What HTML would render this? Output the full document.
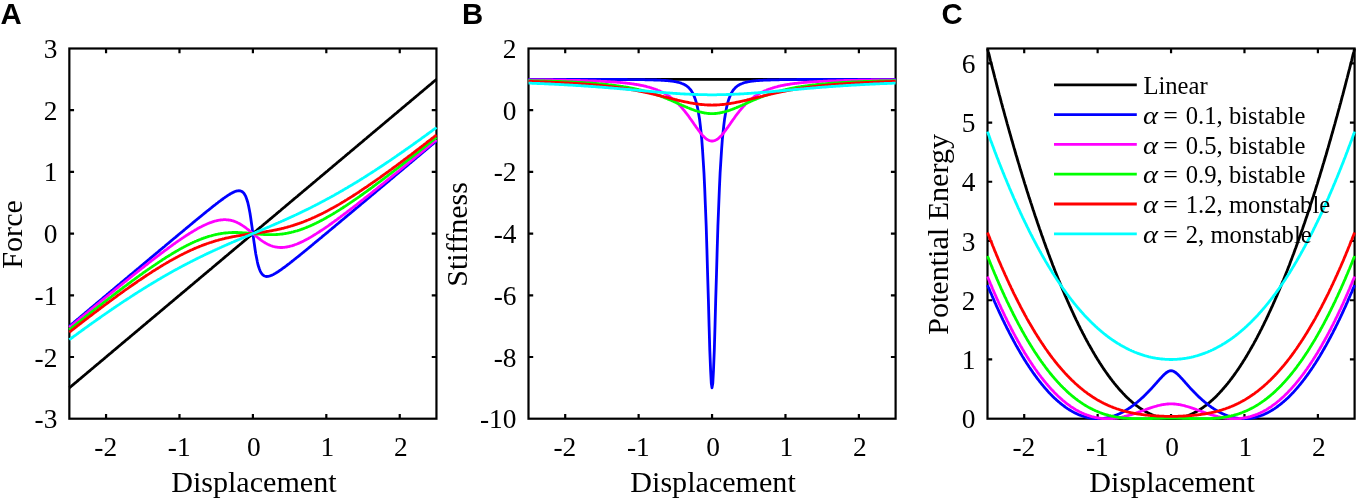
<!DOCTYPE html>
<html><head><meta charset="utf-8"><title>Figure</title><style>html,body{margin:0;padding:0;background:#fff}svg{display:block}</style></head><body>
<svg width="1358" height="501" viewBox="0 0 1358 501" font-family="'Liberation Serif', serif" fill="#000">
<rect width="1358" height="501" fill="#fff"/>
<rect x="69.35" y="48.50" width="367.10" height="370.20" fill="none" stroke="#000" stroke-width="2.2"/>
<path d="M106.06 418.70v-4.7M106.06 48.50v4.7M179.48 418.70v-4.7M179.48 48.50v4.7M252.90 418.70v-4.7M252.90 48.50v4.7M326.32 418.70v-4.7M326.32 48.50v4.7M399.74 418.70v-4.7M399.74 48.50v4.7M69.35 357.00h4.7M436.45 357.00h-4.7M69.35 295.30h4.7M436.45 295.30h-4.7M69.35 233.60h4.7M436.45 233.60h-4.7M69.35 171.90h4.7M436.45 171.90h-4.7M69.35 110.20h4.7M436.45 110.20h-4.7" stroke="#000" stroke-width="2.2" fill="none"/>
<clipPath id="c0"><rect x="67.85" y="47.00" width="370.10" height="373.20"/></clipPath>
<g clip-path="url(#c0)" fill="none" stroke-width="2.8" stroke-linejoin="round">
<polyline stroke="#000000" points="69.3,387.8 70.1,387.2 70.8,386.6 71.6,386.0 72.3,385.4 73.0,384.8 73.8,384.1 74.5,383.5 75.2,382.9 76.0,382.3 76.7,381.7 77.4,381.1 78.2,380.4 78.9,379.8 79.6,379.2 80.4,378.6 81.1,378.0 81.8,377.4 82.6,376.7 83.3,376.1 84.0,375.5 84.8,374.9 85.5,374.3 86.2,373.7 87.0,373.0 87.7,372.4 88.4,371.8 89.2,371.2 89.9,370.6 90.6,370.0 91.4,369.3 92.1,368.7 92.8,368.1 93.6,367.5 94.3,366.9 95.0,366.3 95.8,365.6 96.5,365.0 97.2,364.4 98.0,363.8 98.7,363.2 99.5,362.6 100.2,361.9 100.9,361.3 101.7,360.7 102.4,360.1 103.1,359.5 103.9,358.9 104.6,358.2 105.3,357.6 106.1,357.0 106.8,356.4 107.5,355.8 108.3,355.1 109.0,354.5 109.7,353.9 110.5,353.3 111.2,352.7 111.9,352.1 112.7,351.4 113.4,350.8 114.1,350.2 114.9,349.6 115.6,349.0 116.3,348.4 117.1,347.7 117.8,347.1 118.5,346.5 119.3,345.9 120.0,345.3 120.7,344.7 121.5,344.0 122.2,343.4 122.9,342.8 123.7,342.2 124.4,341.6 125.1,341.0 125.9,340.3 126.6,339.7 127.4,339.1 128.1,338.5 128.8,337.9 129.6,337.3 130.3,336.6 131.0,336.0 131.8,335.4 132.5,334.8 133.2,334.2 134.0,333.6 134.7,332.9 135.4,332.3 136.2,331.7 136.9,331.1 137.6,330.5 138.4,329.9 139.1,329.2 139.8,328.6 140.6,328.0 141.3,327.4 142.0,326.8 142.8,326.1 143.5,325.5 144.2,324.9 145.0,324.3 145.7,323.7 146.4,323.1 147.2,322.4 147.9,321.8 148.6,321.2 149.4,320.6 150.1,320.0 150.8,319.4 151.6,318.7 152.3,318.1 153.0,317.5 153.8,316.9 154.5,316.3 155.3,315.7 156.0,315.0 156.7,314.4 157.5,313.8 158.2,313.2 158.9,312.6 159.7,312.0 160.4,311.3 161.1,310.7 161.9,310.1 162.6,309.5 163.3,308.9 164.1,308.3 164.8,307.6 165.5,307.0 166.3,306.4 167.0,305.8 167.7,305.2 168.5,304.6 169.2,303.9 169.9,303.3 170.7,302.7 171.4,302.1 172.1,301.5 172.9,300.9 173.6,300.2 174.3,299.6 175.1,299.0 175.8,298.4 176.5,297.8 177.3,297.2 178.0,296.5 178.7,295.9 179.5,295.3 180.2,294.7 180.9,294.1 181.7,293.4 182.4,292.8 183.2,292.2 183.9,291.6 184.6,291.0 185.4,290.4 186.1,289.7 186.8,289.1 187.6,288.5 188.3,287.9 189.0,287.3 189.8,286.7 190.5,286.0 191.2,285.4 192.0,284.8 192.7,284.2 193.4,283.6 194.2,283.0 194.9,282.3 195.6,281.7 196.4,281.1 197.1,280.5 197.8,279.9 198.6,279.3 199.3,278.6 200.0,278.0 200.8,277.4 201.5,276.8 202.2,276.2 203.0,275.6 203.7,274.9 204.4,274.3 205.2,273.7 205.9,273.1 206.6,272.5 207.4,271.9 208.1,271.2 208.8,270.6 209.6,270.0 210.3,269.4 211.1,268.8 211.8,268.2 212.5,267.5 213.3,266.9 214.0,266.3 214.7,265.7 215.5,265.1 216.2,264.4 216.9,263.8 217.7,263.2 218.4,262.6 219.1,262.0 219.9,261.4 220.6,260.7 221.3,260.1 222.1,259.5 222.8,258.9 223.5,258.3 224.3,257.7 225.0,257.0 225.7,256.4 226.5,255.8 227.2,255.2 227.9,254.6 228.7,254.0 229.4,253.3 230.1,252.7 230.9,252.1 231.6,251.5 232.3,250.9 233.1,250.3 233.8,249.6 234.5,249.0 235.3,248.4 236.0,247.8 236.7,247.2 237.5,246.6 238.2,245.9 239.0,245.3 239.7,244.7 240.4,244.1 241.2,243.5 241.9,242.9 242.6,242.2 243.4,241.6 244.1,241.0 244.8,240.4 245.6,239.8 246.3,239.2 247.0,238.5 247.8,237.9 248.5,237.3 249.2,236.7 250.0,236.1 250.7,235.5 251.4,234.8 252.2,234.2 252.9,233.6 253.6,233.0 254.4,232.4 255.1,231.7 255.8,231.1 256.6,230.5 257.3,229.9 258.0,229.3 258.8,228.7 259.5,228.0 260.2,227.4 261.0,226.8 261.7,226.2 262.4,225.6 263.2,225.0 263.9,224.3 264.6,223.7 265.4,223.1 266.1,222.5 266.8,221.9 267.6,221.3 268.3,220.6 269.1,220.0 269.8,219.4 270.5,218.8 271.3,218.2 272.0,217.6 272.7,216.9 273.5,216.3 274.2,215.7 274.9,215.1 275.7,214.5 276.4,213.9 277.1,213.2 277.9,212.6 278.6,212.0 279.3,211.4 280.1,210.8 280.8,210.2 281.5,209.5 282.3,208.9 283.0,208.3 283.7,207.7 284.5,207.1 285.2,206.5 285.9,205.8 286.7,205.2 287.4,204.6 288.1,204.0 288.9,203.4 289.6,202.8 290.3,202.1 291.1,201.5 291.8,200.9 292.5,200.3 293.3,199.7 294.0,199.0 294.7,198.4 295.5,197.8 296.2,197.2 297.0,196.6 297.7,196.0 298.4,195.3 299.2,194.7 299.9,194.1 300.6,193.5 301.4,192.9 302.1,192.3 302.8,191.6 303.6,191.0 304.3,190.4 305.0,189.8 305.8,189.2 306.5,188.6 307.2,187.9 308.0,187.3 308.7,186.7 309.4,186.1 310.2,185.5 310.9,184.9 311.6,184.2 312.4,183.6 313.1,183.0 313.8,182.4 314.6,181.8 315.3,181.2 316.0,180.5 316.8,179.9 317.5,179.3 318.2,178.7 319.0,178.1 319.7,177.5 320.4,176.8 321.2,176.2 321.9,175.6 322.6,175.0 323.4,174.4 324.1,173.8 324.9,173.1 325.6,172.5 326.3,171.9 327.1,171.3 327.8,170.7 328.5,170.0 329.3,169.4 330.0,168.8 330.7,168.2 331.5,167.6 332.2,167.0 332.9,166.3 333.7,165.7 334.4,165.1 335.1,164.5 335.9,163.9 336.6,163.3 337.3,162.6 338.1,162.0 338.8,161.4 339.5,160.8 340.3,160.2 341.0,159.6 341.7,158.9 342.5,158.3 343.2,157.7 343.9,157.1 344.7,156.5 345.4,155.9 346.1,155.2 346.9,154.6 347.6,154.0 348.3,153.4 349.1,152.8 349.8,152.2 350.5,151.5 351.3,150.9 352.0,150.3 352.8,149.7 353.5,149.1 354.2,148.5 355.0,147.8 355.7,147.2 356.4,146.6 357.2,146.0 357.9,145.4 358.6,144.8 359.4,144.1 360.1,143.5 360.8,142.9 361.6,142.3 362.3,141.7 363.0,141.1 363.8,140.4 364.5,139.8 365.2,139.2 366.0,138.6 366.7,138.0 367.4,137.3 368.2,136.7 368.9,136.1 369.6,135.5 370.4,134.9 371.1,134.3 371.8,133.6 372.6,133.0 373.3,132.4 374.0,131.8 374.8,131.2 375.5,130.6 376.2,129.9 377.0,129.3 377.7,128.7 378.4,128.1 379.2,127.5 379.9,126.9 380.7,126.2 381.4,125.6 382.1,125.0 382.9,124.4 383.6,123.8 384.3,123.2 385.1,122.5 385.8,121.9 386.5,121.3 387.3,120.7 388.0,120.1 388.7,119.5 389.5,118.8 390.2,118.2 390.9,117.6 391.7,117.0 392.4,116.4 393.1,115.8 393.9,115.1 394.6,114.5 395.3,113.9 396.1,113.3 396.8,112.7 397.5,112.1 398.3,111.4 399.0,110.8 399.7,110.2 400.5,109.6 401.2,109.0 401.9,108.3 402.7,107.7 403.4,107.1 404.1,106.5 404.9,105.9 405.6,105.3 406.3,104.6 407.1,104.0 407.8,103.4 408.6,102.8 409.3,102.2 410.0,101.6 410.8,100.9 411.5,100.3 412.2,99.7 413.0,99.1 413.7,98.5 414.4,97.9 415.2,97.2 415.9,96.6 416.6,96.0 417.4,95.4 418.1,94.8 418.8,94.2 419.6,93.5 420.3,92.9 421.0,92.3 421.8,91.7 422.5,91.1 423.2,90.5 424.0,89.8 424.7,89.2 425.4,88.6 426.2,88.0 426.9,87.4 427.6,86.8 428.4,86.1 429.1,85.5 429.8,84.9 430.6,84.3 431.3,83.7 432.0,83.1 432.8,82.4 433.5,81.8 434.2,81.2 435.0,80.6 435.7,80.0 436.5,79.4"/>
<polyline stroke="#0000ff" points="69.3,326.2 70.1,325.6 70.8,325.0 71.6,324.3 72.3,323.7 73.0,323.1 73.8,322.5 74.5,321.9 75.2,321.3 76.0,320.7 76.7,320.0 77.4,319.4 78.2,318.8 78.9,318.2 79.6,317.6 80.4,317.0 81.1,316.3 81.8,315.7 82.6,315.1 83.3,314.5 84.0,313.9 84.8,313.3 85.5,312.6 86.2,312.0 87.0,311.4 87.7,310.8 88.4,310.2 89.2,309.6 89.9,308.9 90.6,308.3 91.4,307.7 92.1,307.1 92.8,306.5 93.6,305.9 94.3,305.2 95.0,304.6 95.8,304.0 96.5,303.4 97.2,302.8 98.0,302.2 98.7,301.5 99.5,300.9 100.2,300.3 100.9,299.7 101.7,299.1 102.4,298.5 103.1,297.8 103.9,297.2 104.6,296.6 105.3,296.0 106.1,295.4 106.8,294.8 107.5,294.1 108.3,293.5 109.0,292.9 109.7,292.3 110.5,291.7 111.2,291.1 111.9,290.4 112.7,289.8 113.4,289.2 114.1,288.6 114.9,288.0 115.6,287.4 116.3,286.8 117.1,286.1 117.8,285.5 118.5,284.9 119.3,284.3 120.0,283.7 120.7,283.1 121.5,282.4 122.2,281.8 122.9,281.2 123.7,280.6 124.4,280.0 125.1,279.4 125.9,278.7 126.6,278.1 127.4,277.5 128.1,276.9 128.8,276.3 129.6,275.7 130.3,275.0 131.0,274.4 131.8,273.8 132.5,273.2 133.2,272.6 134.0,272.0 134.7,271.4 135.4,270.7 136.2,270.1 136.9,269.5 137.6,268.9 138.4,268.3 139.1,267.7 139.8,267.0 140.6,266.4 141.3,265.8 142.0,265.2 142.8,264.6 143.5,264.0 144.2,263.4 145.0,262.7 145.7,262.1 146.4,261.5 147.2,260.9 147.9,260.3 148.6,259.7 149.4,259.1 150.1,258.4 150.8,257.8 151.6,257.2 152.3,256.6 153.0,256.0 153.8,255.4 154.5,254.7 155.3,254.1 156.0,253.5 156.7,252.9 157.5,252.3 158.2,251.7 158.9,251.1 159.7,250.4 160.4,249.8 161.1,249.2 161.9,248.6 162.6,248.0 163.3,247.4 164.1,246.8 164.8,246.2 165.5,245.5 166.3,244.9 167.0,244.3 167.7,243.7 168.5,243.1 169.2,242.5 169.9,241.9 170.7,241.2 171.4,240.6 172.1,240.0 172.9,239.4 173.6,238.8 174.3,238.2 175.1,237.6 175.8,237.0 176.5,236.4 177.3,235.7 178.0,235.1 178.7,234.5 179.5,233.9 180.2,233.3 180.9,232.7 181.7,232.1 182.4,231.5 183.2,230.9 183.9,230.2 184.6,229.6 185.4,229.0 186.1,228.4 186.8,227.8 187.6,227.2 188.3,226.6 189.0,226.0 189.8,225.4 190.5,224.8 191.2,224.2 192.0,223.6 192.7,222.9 193.4,222.3 194.2,221.7 194.9,221.1 195.6,220.5 196.4,219.9 197.1,219.3 197.8,218.7 198.6,218.1 199.3,217.5 200.0,216.9 200.8,216.3 201.5,215.7 202.2,215.1 203.0,214.5 203.7,213.9 204.4,213.3 205.2,212.7 205.9,212.1 206.6,211.5 207.4,210.9 208.1,210.3 208.8,209.8 209.6,209.2 210.3,208.6 211.1,208.0 211.8,207.4 212.5,206.8 213.3,206.2 214.0,205.7 214.7,205.1 215.5,204.5 216.2,203.9 216.9,203.4 217.7,202.8 218.4,202.2 219.1,201.7 219.9,201.1 220.6,200.6 221.3,200.0 222.1,199.5 222.8,199.0 223.5,198.4 224.3,197.9 225.0,197.4 225.7,196.9 226.5,196.4 227.2,195.9 227.9,195.4 228.7,194.9 229.4,194.5 230.1,194.0 230.9,193.6 231.6,193.2 232.3,192.8 233.1,192.4 233.8,192.1 234.5,191.7 235.3,191.5 236.0,191.2 236.7,191.0 237.5,190.9 238.2,190.8 239.0,190.7 239.7,190.8 240.4,190.9 241.2,191.2 241.9,191.5 242.6,192.0 243.4,192.7 244.1,193.6 244.8,194.7 245.6,196.1 246.3,197.9 247.0,200.0 247.8,202.5 248.5,205.6 249.2,209.1 250.0,213.2 250.7,217.7 251.4,222.7 252.2,228.1 252.9,233.6 253.6,239.1 254.4,244.5 255.1,249.5 255.8,254.0 256.6,258.1 257.3,261.6 258.0,264.7 258.8,267.2 259.5,269.3 260.2,271.1 261.0,272.5 261.7,273.6 262.4,274.5 263.2,275.2 263.9,275.7 264.6,276.0 265.4,276.3 266.1,276.4 266.8,276.5 267.6,276.4 268.3,276.3 269.1,276.2 269.8,276.0 270.5,275.7 271.3,275.5 272.0,275.1 272.7,274.8 273.5,274.4 274.2,274.0 274.9,273.6 275.7,273.2 276.4,272.7 277.1,272.3 277.9,271.8 278.6,271.3 279.3,270.8 280.1,270.3 280.8,269.8 281.5,269.3 282.3,268.8 283.0,268.2 283.7,267.7 284.5,267.2 285.2,266.6 285.9,266.1 286.7,265.5 287.4,265.0 288.1,264.4 288.9,263.8 289.6,263.3 290.3,262.7 291.1,262.1 291.8,261.5 292.5,261.0 293.3,260.4 294.0,259.8 294.7,259.2 295.5,258.6 296.2,258.0 297.0,257.4 297.7,256.9 298.4,256.3 299.2,255.7 299.9,255.1 300.6,254.5 301.4,253.9 302.1,253.3 302.8,252.7 303.6,252.1 304.3,251.5 305.0,250.9 305.8,250.3 306.5,249.7 307.2,249.1 308.0,248.5 308.7,247.9 309.4,247.3 310.2,246.7 310.9,246.1 311.6,245.5 312.4,244.9 313.1,244.3 313.8,243.6 314.6,243.0 315.3,242.4 316.0,241.8 316.8,241.2 317.5,240.6 318.2,240.0 319.0,239.4 319.7,238.8 320.4,238.2 321.2,237.6 321.9,237.0 322.6,236.3 323.4,235.7 324.1,235.1 324.9,234.5 325.6,233.9 326.3,233.3 327.1,232.7 327.8,232.1 328.5,231.5 329.3,230.8 330.0,230.2 330.7,229.6 331.5,229.0 332.2,228.4 332.9,227.8 333.7,227.2 334.4,226.6 335.1,226.0 335.9,225.3 336.6,224.7 337.3,224.1 338.1,223.5 338.8,222.9 339.5,222.3 340.3,221.7 341.0,221.0 341.7,220.4 342.5,219.8 343.2,219.2 343.9,218.6 344.7,218.0 345.4,217.4 346.1,216.8 346.9,216.1 347.6,215.5 348.3,214.9 349.1,214.3 349.8,213.7 350.5,213.1 351.3,212.5 352.0,211.8 352.8,211.2 353.5,210.6 354.2,210.0 355.0,209.4 355.7,208.8 356.4,208.1 357.2,207.5 357.9,206.9 358.6,206.3 359.4,205.7 360.1,205.1 360.8,204.5 361.6,203.8 362.3,203.2 363.0,202.6 363.8,202.0 364.5,201.4 365.2,200.8 366.0,200.2 366.7,199.5 367.4,198.9 368.2,198.3 368.9,197.7 369.6,197.1 370.4,196.5 371.1,195.8 371.8,195.2 372.6,194.6 373.3,194.0 374.0,193.4 374.8,192.8 375.5,192.2 376.2,191.5 377.0,190.9 377.7,190.3 378.4,189.7 379.2,189.1 379.9,188.5 380.7,187.8 381.4,187.2 382.1,186.6 382.9,186.0 383.6,185.4 384.3,184.8 385.1,184.1 385.8,183.5 386.5,182.9 387.3,182.3 388.0,181.7 388.7,181.1 389.5,180.4 390.2,179.8 390.9,179.2 391.7,178.6 392.4,178.0 393.1,177.4 393.9,176.8 394.6,176.1 395.3,175.5 396.1,174.9 396.8,174.3 397.5,173.7 398.3,173.1 399.0,172.4 399.7,171.8 400.5,171.2 401.2,170.6 401.9,170.0 402.7,169.4 403.4,168.7 404.1,168.1 404.9,167.5 405.6,166.9 406.3,166.3 407.1,165.7 407.8,165.0 408.6,164.4 409.3,163.8 410.0,163.2 410.8,162.6 411.5,162.0 412.2,161.3 413.0,160.7 413.7,160.1 414.4,159.5 415.2,158.9 415.9,158.3 416.6,157.6 417.4,157.0 418.1,156.4 418.8,155.8 419.6,155.2 420.3,154.6 421.0,153.9 421.8,153.3 422.5,152.7 423.2,152.1 424.0,151.5 424.7,150.9 425.4,150.2 426.2,149.6 426.9,149.0 427.6,148.4 428.4,147.8 429.1,147.2 429.8,146.5 430.6,145.9 431.3,145.3 432.0,144.7 432.8,144.1 433.5,143.5 434.2,142.9 435.0,142.2 435.7,141.6 436.5,141.0"/>
<polyline stroke="#ff00ff" points="69.3,327.3 70.1,326.7 70.8,326.1 71.6,325.5 72.3,324.9 73.0,324.3 73.8,323.7 74.5,323.1 75.2,322.5 76.0,321.9 76.7,321.3 77.4,320.7 78.2,320.1 78.9,319.5 79.6,318.9 80.4,318.2 81.1,317.6 81.8,317.0 82.6,316.4 83.3,315.8 84.0,315.2 84.8,314.6 85.5,314.0 86.2,313.4 87.0,312.8 87.7,312.2 88.4,311.6 89.2,311.0 89.9,310.4 90.6,309.8 91.4,309.2 92.1,308.6 92.8,308.0 93.6,307.4 94.3,306.8 95.0,306.2 95.8,305.6 96.5,305.0 97.2,304.4 98.0,303.7 98.7,303.1 99.5,302.5 100.2,301.9 100.9,301.3 101.7,300.7 102.4,300.1 103.1,299.5 103.9,298.9 104.6,298.3 105.3,297.7 106.1,297.1 106.8,296.5 107.5,295.9 108.3,295.3 109.0,294.7 109.7,294.1 110.5,293.6 111.2,293.0 111.9,292.4 112.7,291.8 113.4,291.2 114.1,290.6 114.9,290.0 115.6,289.4 116.3,288.8 117.1,288.2 117.8,287.6 118.5,287.0 119.3,286.4 120.0,285.8 120.7,285.2 121.5,284.6 122.2,284.0 122.9,283.4 123.7,282.8 124.4,282.2 125.1,281.7 125.9,281.1 126.6,280.5 127.4,279.9 128.1,279.3 128.8,278.7 129.6,278.1 130.3,277.5 131.0,276.9 131.8,276.4 132.5,275.8 133.2,275.2 134.0,274.6 134.7,274.0 135.4,273.4 136.2,272.8 136.9,272.3 137.6,271.7 138.4,271.1 139.1,270.5 139.8,269.9 140.6,269.4 141.3,268.8 142.0,268.2 142.8,267.6 143.5,267.0 144.2,266.5 145.0,265.9 145.7,265.3 146.4,264.7 147.2,264.2 147.9,263.6 148.6,263.0 149.4,262.4 150.1,261.9 150.8,261.3 151.6,260.7 152.3,260.2 153.0,259.6 153.8,259.0 154.5,258.5 155.3,257.9 156.0,257.3 156.7,256.8 157.5,256.2 158.2,255.7 158.9,255.1 159.7,254.5 160.4,254.0 161.1,253.4 161.9,252.9 162.6,252.3 163.3,251.8 164.1,251.2 164.8,250.7 165.5,250.1 166.3,249.6 167.0,249.1 167.7,248.5 168.5,248.0 169.2,247.4 169.9,246.9 170.7,246.4 171.4,245.8 172.1,245.3 172.9,244.8 173.6,244.2 174.3,243.7 175.1,243.2 175.8,242.7 176.5,242.2 177.3,241.6 178.0,241.1 178.7,240.6 179.5,240.1 180.2,239.6 180.9,239.1 181.7,238.6 182.4,238.1 183.2,237.6 183.9,237.1 184.6,236.6 185.4,236.2 186.1,235.7 186.8,235.2 187.6,234.7 188.3,234.3 189.0,233.8 189.8,233.3 190.5,232.9 191.2,232.4 192.0,232.0 192.7,231.5 193.4,231.1 194.2,230.6 194.9,230.2 195.6,229.8 196.4,229.4 197.1,228.9 197.8,228.5 198.6,228.1 199.3,227.7 200.0,227.3 200.8,227.0 201.5,226.6 202.2,226.2 203.0,225.8 203.7,225.5 204.4,225.1 205.2,224.8 205.9,224.5 206.6,224.1 207.4,223.8 208.1,223.5 208.8,223.2 209.6,222.9 210.3,222.7 211.1,222.4 211.8,222.1 212.5,221.9 213.3,221.6 214.0,221.4 214.7,221.2 215.5,221.0 216.2,220.8 216.9,220.6 217.7,220.5 218.4,220.3 219.1,220.2 219.9,220.1 220.6,220.0 221.3,219.9 222.1,219.8 222.8,219.8 223.5,219.7 224.3,219.7 225.0,219.7 225.7,219.7 226.5,219.8 227.2,219.8 227.9,219.9 228.7,220.0 229.4,220.1 230.1,220.2 230.9,220.4 231.6,220.5 232.3,220.7 233.1,220.9 233.8,221.2 234.5,221.4 235.3,221.7 236.0,222.0 236.7,222.3 237.5,222.7 238.2,223.0 239.0,223.4 239.7,223.8 240.4,224.2 241.2,224.7 241.9,225.1 242.6,225.6 243.4,226.1 244.1,226.6 244.8,227.1 245.6,227.7 246.3,228.2 247.0,228.8 247.8,229.4 248.5,230.0 249.2,230.5 250.0,231.1 250.7,231.8 251.4,232.4 252.2,233.0 252.9,233.6 253.6,234.2 254.4,234.8 255.1,235.4 255.8,236.1 256.6,236.7 257.3,237.2 258.0,237.8 258.8,238.4 259.5,239.0 260.2,239.5 261.0,240.1 261.7,240.6 262.4,241.1 263.2,241.6 263.9,242.1 264.6,242.5 265.4,243.0 266.1,243.4 266.8,243.8 267.6,244.2 268.3,244.5 269.1,244.9 269.8,245.2 270.5,245.5 271.3,245.8 272.0,246.0 272.7,246.3 273.5,246.5 274.2,246.7 274.9,246.8 275.7,247.0 276.4,247.1 277.1,247.2 277.9,247.3 278.6,247.4 279.3,247.4 280.1,247.5 280.8,247.5 281.5,247.5 282.3,247.5 283.0,247.4 283.7,247.4 284.5,247.3 285.2,247.2 285.9,247.1 286.7,247.0 287.4,246.9 288.1,246.7 288.9,246.6 289.6,246.4 290.3,246.2 291.1,246.0 291.8,245.8 292.5,245.6 293.3,245.3 294.0,245.1 294.7,244.8 295.5,244.5 296.2,244.3 297.0,244.0 297.7,243.7 298.4,243.4 299.2,243.1 299.9,242.7 300.6,242.4 301.4,242.1 302.1,241.7 302.8,241.4 303.6,241.0 304.3,240.6 305.0,240.2 305.8,239.9 306.5,239.5 307.2,239.1 308.0,238.7 308.7,238.3 309.4,237.8 310.2,237.4 310.9,237.0 311.6,236.6 312.4,236.1 313.1,235.7 313.8,235.2 314.6,234.8 315.3,234.3 316.0,233.9 316.8,233.4 317.5,232.9 318.2,232.5 319.0,232.0 319.7,231.5 320.4,231.0 321.2,230.6 321.9,230.1 322.6,229.6 323.4,229.1 324.1,228.6 324.9,228.1 325.6,227.6 326.3,227.1 327.1,226.6 327.8,226.1 328.5,225.6 329.3,225.0 330.0,224.5 330.7,224.0 331.5,223.5 332.2,223.0 332.9,222.4 333.7,221.9 334.4,221.4 335.1,220.8 335.9,220.3 336.6,219.8 337.3,219.2 338.1,218.7 338.8,218.1 339.5,217.6 340.3,217.1 341.0,216.5 341.7,216.0 342.5,215.4 343.2,214.9 343.9,214.3 344.7,213.8 345.4,213.2 346.1,212.7 346.9,212.1 347.6,211.5 348.3,211.0 349.1,210.4 349.8,209.9 350.5,209.3 351.3,208.7 352.0,208.2 352.8,207.6 353.5,207.0 354.2,206.5 355.0,205.9 355.7,205.3 356.4,204.8 357.2,204.2 357.9,203.6 358.6,203.0 359.4,202.5 360.1,201.9 360.8,201.3 361.6,200.7 362.3,200.2 363.0,199.6 363.8,199.0 364.5,198.4 365.2,197.8 366.0,197.3 366.7,196.7 367.4,196.1 368.2,195.5 368.9,194.9 369.6,194.4 370.4,193.8 371.1,193.2 371.8,192.6 372.6,192.0 373.3,191.4 374.0,190.8 374.8,190.3 375.5,189.7 376.2,189.1 377.0,188.5 377.7,187.9 378.4,187.3 379.2,186.7 379.9,186.1 380.7,185.5 381.4,185.0 382.1,184.4 382.9,183.8 383.6,183.2 384.3,182.6 385.1,182.0 385.8,181.4 386.5,180.8 387.3,180.2 388.0,179.6 388.7,179.0 389.5,178.4 390.2,177.8 390.9,177.2 391.7,176.6 392.4,176.0 393.1,175.4 393.9,174.8 394.6,174.2 395.3,173.6 396.1,173.1 396.8,172.5 397.5,171.9 398.3,171.3 399.0,170.7 399.7,170.1 400.5,169.5 401.2,168.9 401.9,168.3 402.7,167.7 403.4,167.1 404.1,166.5 404.9,165.9 405.6,165.3 406.3,164.7 407.1,164.1 407.8,163.5 408.6,162.8 409.3,162.2 410.0,161.6 410.8,161.0 411.5,160.4 412.2,159.8 413.0,159.2 413.7,158.6 414.4,158.0 415.2,157.4 415.9,156.8 416.6,156.2 417.4,155.6 418.1,155.0 418.8,154.4 419.6,153.8 420.3,153.2 421.0,152.6 421.8,152.0 422.5,151.4 423.2,150.8 424.0,150.2 424.7,149.6 425.4,149.0 426.2,148.3 426.9,147.7 427.6,147.1 428.4,146.5 429.1,145.9 429.8,145.3 430.6,144.7 431.3,144.1 432.0,143.5 432.8,142.9 433.5,142.3 434.2,141.7 435.0,141.1 435.7,140.5 436.5,139.9"/>
<polyline stroke="#00ff00" points="69.3,329.8 70.1,329.2 70.8,328.6 71.6,328.0 72.3,327.4 73.0,326.8 73.8,326.3 74.5,325.7 75.2,325.1 76.0,324.5 76.7,323.9 77.4,323.3 78.2,322.7 78.9,322.1 79.6,321.6 80.4,321.0 81.1,320.4 81.8,319.8 82.6,319.2 83.3,318.6 84.0,318.1 84.8,317.5 85.5,316.9 86.2,316.3 87.0,315.7 87.7,315.1 88.4,314.6 89.2,314.0 89.9,313.4 90.6,312.8 91.4,312.2 92.1,311.7 92.8,311.1 93.6,310.5 94.3,309.9 95.0,309.3 95.8,308.8 96.5,308.2 97.2,307.6 98.0,307.0 98.7,306.5 99.5,305.9 100.2,305.3 100.9,304.7 101.7,304.2 102.4,303.6 103.1,303.0 103.9,302.4 104.6,301.9 105.3,301.3 106.1,300.7 106.8,300.2 107.5,299.6 108.3,299.0 109.0,298.5 109.7,297.9 110.5,297.3 111.2,296.8 111.9,296.2 112.7,295.6 113.4,295.1 114.1,294.5 114.9,293.9 115.6,293.4 116.3,292.8 117.1,292.3 117.8,291.7 118.5,291.1 119.3,290.6 120.0,290.0 120.7,289.5 121.5,288.9 122.2,288.4 122.9,287.8 123.7,287.3 124.4,286.7 125.1,286.2 125.9,285.6 126.6,285.1 127.4,284.5 128.1,284.0 128.8,283.4 129.6,282.9 130.3,282.3 131.0,281.8 131.8,281.2 132.5,280.7 133.2,280.2 134.0,279.6 134.7,279.1 135.4,278.5 136.2,278.0 136.9,277.5 137.6,276.9 138.4,276.4 139.1,275.9 139.8,275.3 140.6,274.8 141.3,274.3 142.0,273.8 142.8,273.2 143.5,272.7 144.2,272.2 145.0,271.7 145.7,271.2 146.4,270.6 147.2,270.1 147.9,269.6 148.6,269.1 149.4,268.6 150.1,268.1 150.8,267.6 151.6,267.1 152.3,266.6 153.0,266.1 153.8,265.6 154.5,265.1 155.3,264.6 156.0,264.1 156.7,263.6 157.5,263.1 158.2,262.6 158.9,262.1 159.7,261.6 160.4,261.1 161.1,260.7 161.9,260.2 162.6,259.7 163.3,259.2 164.1,258.8 164.8,258.3 165.5,257.8 166.3,257.3 167.0,256.9 167.7,256.4 168.5,256.0 169.2,255.5 169.9,255.1 170.7,254.6 171.4,254.2 172.1,253.7 172.9,253.3 173.6,252.8 174.3,252.4 175.1,252.0 175.8,251.5 176.5,251.1 177.3,250.7 178.0,250.3 178.7,249.9 179.5,249.4 180.2,249.0 180.9,248.6 181.7,248.2 182.4,247.8 183.2,247.4 183.9,247.0 184.6,246.6 185.4,246.3 186.1,245.9 186.8,245.5 187.6,245.1 188.3,244.8 189.0,244.4 189.8,244.0 190.5,243.7 191.2,243.3 192.0,243.0 192.7,242.6 193.4,242.3 194.2,242.0 194.9,241.6 195.6,241.3 196.4,241.0 197.1,240.7 197.8,240.4 198.6,240.1 199.3,239.8 200.0,239.5 200.8,239.2 201.5,238.9 202.2,238.6 203.0,238.4 203.7,238.1 204.4,237.8 205.2,237.6 205.9,237.3 206.6,237.1 207.4,236.9 208.1,236.6 208.8,236.4 209.6,236.2 210.3,236.0 211.1,235.8 211.8,235.6 212.5,235.4 213.3,235.2 214.0,235.0 214.7,234.8 215.5,234.6 216.2,234.5 216.9,234.3 217.7,234.2 218.4,234.0 219.1,233.9 219.9,233.8 220.6,233.6 221.3,233.5 222.1,233.4 222.8,233.3 223.5,233.2 224.3,233.1 225.0,233.0 225.7,233.0 226.5,232.9 227.2,232.8 227.9,232.8 228.7,232.7 229.4,232.7 230.1,232.6 230.9,232.6 231.6,232.6 232.3,232.5 233.1,232.5 233.8,232.5 234.5,232.5 235.3,232.5 236.0,232.5 236.7,232.5 237.5,232.5 238.2,232.6 239.0,232.6 239.7,232.6 240.4,232.6 241.2,232.7 241.9,232.7 242.6,232.8 243.4,232.8 244.1,232.8 244.8,232.9 245.6,233.0 246.3,233.0 247.0,233.1 247.8,233.1 248.5,233.2 249.2,233.3 250.0,233.3 250.7,233.4 251.4,233.5 252.2,233.5 252.9,233.6 253.6,233.7 254.4,233.7 255.1,233.8 255.8,233.9 256.6,233.9 257.3,234.0 258.0,234.1 258.8,234.1 259.5,234.2 260.2,234.2 261.0,234.3 261.7,234.4 262.4,234.4 263.2,234.4 263.9,234.5 264.6,234.5 265.4,234.6 266.1,234.6 266.8,234.6 267.6,234.6 268.3,234.7 269.1,234.7 269.8,234.7 270.5,234.7 271.3,234.7 272.0,234.7 272.7,234.7 273.5,234.7 274.2,234.6 274.9,234.6 275.7,234.6 276.4,234.5 277.1,234.5 277.9,234.4 278.6,234.4 279.3,234.3 280.1,234.2 280.8,234.2 281.5,234.1 282.3,234.0 283.0,233.9 283.7,233.8 284.5,233.7 285.2,233.6 285.9,233.4 286.7,233.3 287.4,233.2 288.1,233.0 288.9,232.9 289.6,232.7 290.3,232.6 291.1,232.4 291.8,232.2 292.5,232.0 293.3,231.8 294.0,231.6 294.7,231.4 295.5,231.2 296.2,231.0 297.0,230.8 297.7,230.6 298.4,230.3 299.2,230.1 299.9,229.9 300.6,229.6 301.4,229.4 302.1,229.1 302.8,228.8 303.6,228.6 304.3,228.3 305.0,228.0 305.8,227.7 306.5,227.4 307.2,227.1 308.0,226.8 308.7,226.5 309.4,226.2 310.2,225.9 310.9,225.6 311.6,225.2 312.4,224.9 313.1,224.6 313.8,224.2 314.6,223.9 315.3,223.5 316.0,223.2 316.8,222.8 317.5,222.4 318.2,222.1 319.0,221.7 319.7,221.3 320.4,220.9 321.2,220.6 321.9,220.2 322.6,219.8 323.4,219.4 324.1,219.0 324.9,218.6 325.6,218.2 326.3,217.8 327.1,217.3 327.8,216.9 328.5,216.5 329.3,216.1 330.0,215.7 330.7,215.2 331.5,214.8 332.2,214.4 332.9,213.9 333.7,213.5 334.4,213.0 335.1,212.6 335.9,212.1 336.6,211.7 337.3,211.2 338.1,210.8 338.8,210.3 339.5,209.9 340.3,209.4 341.0,208.9 341.7,208.4 342.5,208.0 343.2,207.5 343.9,207.0 344.7,206.5 345.4,206.1 346.1,205.6 346.9,205.1 347.6,204.6 348.3,204.1 349.1,203.6 349.8,203.1 350.5,202.6 351.3,202.1 352.0,201.6 352.8,201.1 353.5,200.6 354.2,200.1 355.0,199.6 355.7,199.1 356.4,198.6 357.2,198.1 357.9,197.6 358.6,197.1 359.4,196.6 360.1,196.0 360.8,195.5 361.6,195.0 362.3,194.5 363.0,194.0 363.8,193.4 364.5,192.9 365.2,192.4 366.0,191.9 366.7,191.3 367.4,190.8 368.2,190.3 368.9,189.7 369.6,189.2 370.4,188.7 371.1,188.1 371.8,187.6 372.6,187.0 373.3,186.5 374.0,186.0 374.8,185.4 375.5,184.9 376.2,184.3 377.0,183.8 377.7,183.2 378.4,182.7 379.2,182.1 379.9,181.6 380.7,181.0 381.4,180.5 382.1,179.9 382.9,179.4 383.6,178.8 384.3,178.3 385.1,177.7 385.8,177.2 386.5,176.6 387.3,176.1 388.0,175.5 388.7,174.9 389.5,174.4 390.2,173.8 390.9,173.3 391.7,172.7 392.4,172.1 393.1,171.6 393.9,171.0 394.6,170.4 395.3,169.9 396.1,169.3 396.8,168.7 397.5,168.2 398.3,167.6 399.0,167.0 399.7,166.5 400.5,165.9 401.2,165.3 401.9,164.8 402.7,164.2 403.4,163.6 404.1,163.0 404.9,162.5 405.6,161.9 406.3,161.3 407.1,160.7 407.8,160.2 408.6,159.6 409.3,159.0 410.0,158.4 410.8,157.9 411.5,157.3 412.2,156.7 413.0,156.1 413.7,155.5 414.4,155.0 415.2,154.4 415.9,153.8 416.6,153.2 417.4,152.6 418.1,152.1 418.8,151.5 419.6,150.9 420.3,150.3 421.0,149.7 421.8,149.1 422.5,148.6 423.2,148.0 424.0,147.4 424.7,146.8 425.4,146.2 426.2,145.6 426.9,145.1 427.6,144.5 428.4,143.9 429.1,143.3 429.8,142.7 430.6,142.1 431.3,141.5 432.0,140.9 432.8,140.4 433.5,139.8 434.2,139.2 435.0,138.6 435.7,138.0 436.5,137.4"/>
<polyline stroke="#ff0000" points="69.3,332.2 70.1,331.7 70.8,331.1 71.6,330.5 72.3,329.9 73.0,329.4 73.8,328.8 74.5,328.2 75.2,327.6 76.0,327.1 76.7,326.5 77.4,325.9 78.2,325.4 78.9,324.8 79.6,324.2 80.4,323.6 81.1,323.1 81.8,322.5 82.6,321.9 83.3,321.4 84.0,320.8 84.8,320.2 85.5,319.7 86.2,319.1 87.0,318.5 87.7,318.0 88.4,317.4 89.2,316.9 89.9,316.3 90.6,315.7 91.4,315.2 92.1,314.6 92.8,314.1 93.6,313.5 94.3,312.9 95.0,312.4 95.8,311.8 96.5,311.3 97.2,310.7 98.0,310.2 98.7,309.6 99.5,309.0 100.2,308.5 100.9,307.9 101.7,307.4 102.4,306.8 103.1,306.3 103.9,305.7 104.6,305.2 105.3,304.6 106.1,304.1 106.8,303.5 107.5,303.0 108.3,302.5 109.0,301.9 109.7,301.4 110.5,300.8 111.2,300.3 111.9,299.7 112.7,299.2 113.4,298.7 114.1,298.1 114.9,297.6 115.6,297.1 116.3,296.5 117.1,296.0 117.8,295.4 118.5,294.9 119.3,294.4 120.0,293.9 120.7,293.3 121.5,292.8 122.2,292.3 122.9,291.7 123.7,291.2 124.4,290.7 125.1,290.2 125.9,289.6 126.6,289.1 127.4,288.6 128.1,288.1 128.8,287.6 129.6,287.0 130.3,286.5 131.0,286.0 131.8,285.5 132.5,285.0 133.2,284.5 134.0,284.0 134.7,283.5 135.4,283.0 136.2,282.5 136.9,282.0 137.6,281.4 138.4,280.9 139.1,280.4 139.8,279.9 140.6,279.5 141.3,279.0 142.0,278.5 142.8,278.0 143.5,277.5 144.2,277.0 145.0,276.5 145.7,276.0 146.4,275.5 147.2,275.0 147.9,274.6 148.6,274.1 149.4,273.6 150.1,273.1 150.8,272.7 151.6,272.2 152.3,271.7 153.0,271.2 153.8,270.8 154.5,270.3 155.3,269.9 156.0,269.4 156.7,268.9 157.5,268.5 158.2,268.0 158.9,267.6 159.7,267.1 160.4,266.7 161.1,266.2 161.9,265.8 162.6,265.3 163.3,264.9 164.1,264.4 164.8,264.0 165.5,263.6 166.3,263.1 167.0,262.7 167.7,262.3 168.5,261.9 169.2,261.4 169.9,261.0 170.7,260.6 171.4,260.2 172.1,259.8 172.9,259.4 173.6,259.0 174.3,258.6 175.1,258.2 175.8,257.8 176.5,257.4 177.3,257.0 178.0,256.6 178.7,256.2 179.5,255.8 180.2,255.4 180.9,255.0 181.7,254.7 182.4,254.3 183.2,253.9 183.9,253.5 184.6,253.2 185.4,252.8 186.1,252.5 186.8,252.1 187.6,251.8 188.3,251.4 189.0,251.1 189.8,250.7 190.5,250.4 191.2,250.0 192.0,249.7 192.7,249.4 193.4,249.1 194.2,248.7 194.9,248.4 195.6,248.1 196.4,247.8 197.1,247.5 197.8,247.2 198.6,246.9 199.3,246.6 200.0,246.3 200.8,246.0 201.5,245.7 202.2,245.4 203.0,245.1 203.7,244.9 204.4,244.6 205.2,244.3 205.9,244.1 206.6,243.8 207.4,243.5 208.1,243.3 208.8,243.0 209.6,242.8 210.3,242.5 211.1,242.3 211.8,242.1 212.5,241.8 213.3,241.6 214.0,241.4 214.7,241.2 215.5,240.9 216.2,240.7 216.9,240.5 217.7,240.3 218.4,240.1 219.1,239.9 219.9,239.7 220.6,239.5 221.3,239.3 222.1,239.1 222.8,238.9 223.5,238.8 224.3,238.6 225.0,238.4 225.7,238.2 226.5,238.1 227.2,237.9 227.9,237.8 228.7,237.6 229.4,237.4 230.1,237.3 230.9,237.1 231.6,237.0 232.3,236.9 233.1,236.7 233.8,236.6 234.5,236.4 235.3,236.3 236.0,236.2 236.7,236.0 237.5,235.9 238.2,235.8 239.0,235.7 239.7,235.6 240.4,235.4 241.2,235.3 241.9,235.2 242.6,235.1 243.4,235.0 244.1,234.9 244.8,234.8 245.6,234.6 246.3,234.5 247.0,234.4 247.8,234.3 248.5,234.2 249.2,234.1 250.0,234.0 250.7,233.9 251.4,233.8 252.2,233.7 252.9,233.6 253.6,233.5 254.4,233.4 255.1,233.3 255.8,233.2 256.6,233.1 257.3,233.0 258.0,232.9 258.8,232.8 259.5,232.7 260.2,232.6 261.0,232.4 261.7,232.3 262.4,232.2 263.2,232.1 263.9,232.0 264.6,231.9 265.4,231.8 266.1,231.6 266.8,231.5 267.6,231.4 268.3,231.3 269.1,231.2 269.8,231.0 270.5,230.9 271.3,230.8 272.0,230.6 272.7,230.5 273.5,230.3 274.2,230.2 274.9,230.1 275.7,229.9 276.4,229.8 277.1,229.6 277.9,229.4 278.6,229.3 279.3,229.1 280.1,229.0 280.8,228.8 281.5,228.6 282.3,228.4 283.0,228.3 283.7,228.1 284.5,227.9 285.2,227.7 285.9,227.5 286.7,227.3 287.4,227.1 288.1,226.9 288.9,226.7 289.6,226.5 290.3,226.3 291.1,226.0 291.8,225.8 292.5,225.6 293.3,225.4 294.0,225.1 294.7,224.9 295.5,224.7 296.2,224.4 297.0,224.2 297.7,223.9 298.4,223.7 299.2,223.4 299.9,223.1 300.6,222.9 301.4,222.6 302.1,222.3 302.8,222.1 303.6,221.8 304.3,221.5 305.0,221.2 305.8,220.9 306.5,220.6 307.2,220.3 308.0,220.0 308.7,219.7 309.4,219.4 310.2,219.1 310.9,218.8 311.6,218.5 312.4,218.1 313.1,217.8 313.8,217.5 314.6,217.2 315.3,216.8 316.0,216.5 316.8,216.1 317.5,215.8 318.2,215.4 319.0,215.1 319.7,214.7 320.4,214.4 321.2,214.0 321.9,213.7 322.6,213.3 323.4,212.9 324.1,212.5 324.9,212.2 325.6,211.8 326.3,211.4 327.1,211.0 327.8,210.6 328.5,210.2 329.3,209.8 330.0,209.4 330.7,209.0 331.5,208.6 332.2,208.2 332.9,207.8 333.7,207.4 334.4,207.0 335.1,206.6 335.9,206.2 336.6,205.8 337.3,205.3 338.1,204.9 338.8,204.5 339.5,204.1 340.3,203.6 341.0,203.2 341.7,202.8 342.5,202.3 343.2,201.9 343.9,201.4 344.7,201.0 345.4,200.5 346.1,200.1 346.9,199.6 347.6,199.2 348.3,198.7 349.1,198.3 349.8,197.8 350.5,197.3 351.3,196.9 352.0,196.4 352.8,196.0 353.5,195.5 354.2,195.0 355.0,194.5 355.7,194.1 356.4,193.6 357.2,193.1 357.9,192.6 358.6,192.2 359.4,191.7 360.1,191.2 360.8,190.7 361.6,190.2 362.3,189.7 363.0,189.2 363.8,188.7 364.5,188.2 365.2,187.7 366.0,187.3 366.7,186.8 367.4,186.3 368.2,185.8 368.9,185.2 369.6,184.7 370.4,184.2 371.1,183.7 371.8,183.2 372.6,182.7 373.3,182.2 374.0,181.7 374.8,181.2 375.5,180.7 376.2,180.2 377.0,179.6 377.7,179.1 378.4,178.6 379.2,178.1 379.9,177.6 380.7,177.0 381.4,176.5 382.1,176.0 382.9,175.5 383.6,174.9 384.3,174.4 385.1,173.9 385.8,173.3 386.5,172.8 387.3,172.3 388.0,171.8 388.7,171.2 389.5,170.7 390.2,170.1 390.9,169.6 391.7,169.1 392.4,168.5 393.1,168.0 393.9,167.5 394.6,166.9 395.3,166.4 396.1,165.8 396.8,165.3 397.5,164.7 398.3,164.2 399.0,163.7 399.7,163.1 400.5,162.6 401.2,162.0 401.9,161.5 402.7,160.9 403.4,160.4 404.1,159.8 404.9,159.3 405.6,158.7 406.3,158.2 407.1,157.6 407.8,157.0 408.6,156.5 409.3,155.9 410.0,155.4 410.8,154.8 411.5,154.3 412.2,153.7 413.0,153.1 413.7,152.6 414.4,152.0 415.2,151.5 415.9,150.9 416.6,150.3 417.4,149.8 418.1,149.2 418.8,148.7 419.6,148.1 420.3,147.5 421.0,147.0 421.8,146.4 422.5,145.8 423.2,145.3 424.0,144.7 424.7,144.1 425.4,143.6 426.2,143.0 426.9,142.4 427.6,141.8 428.4,141.3 429.1,140.7 429.8,140.1 430.6,139.6 431.3,139.0 432.0,138.4 432.8,137.8 433.5,137.3 434.2,136.7 435.0,136.1 435.7,135.5 436.5,135.0"/>
<polyline stroke="#00ffff" points="69.3,339.7 70.1,339.1 70.8,338.6 71.6,338.0 72.3,337.5 73.0,337.0 73.8,336.4 74.5,335.9 75.2,335.4 76.0,334.8 76.7,334.3 77.4,333.7 78.2,333.2 78.9,332.7 79.6,332.1 80.4,331.6 81.1,331.1 81.8,330.5 82.6,330.0 83.3,329.5 84.0,329.0 84.8,328.4 85.5,327.9 86.2,327.4 87.0,326.8 87.7,326.3 88.4,325.8 89.2,325.3 89.9,324.7 90.6,324.2 91.4,323.7 92.1,323.2 92.8,322.6 93.6,322.1 94.3,321.6 95.0,321.1 95.8,320.6 96.5,320.0 97.2,319.5 98.0,319.0 98.7,318.5 99.5,318.0 100.2,317.5 100.9,316.9 101.7,316.4 102.4,315.9 103.1,315.4 103.9,314.9 104.6,314.4 105.3,313.9 106.1,313.4 106.8,312.9 107.5,312.4 108.3,311.9 109.0,311.3 109.7,310.8 110.5,310.3 111.2,309.8 111.9,309.3 112.7,308.8 113.4,308.3 114.1,307.8 114.9,307.3 115.6,306.8 116.3,306.3 117.1,305.8 117.8,305.4 118.5,304.9 119.3,304.4 120.0,303.9 120.7,303.4 121.5,302.9 122.2,302.4 122.9,301.9 123.7,301.4 124.4,300.9 125.1,300.5 125.9,300.0 126.6,299.5 127.4,299.0 128.1,298.5 128.8,298.1 129.6,297.6 130.3,297.1 131.0,296.6 131.8,296.1 132.5,295.7 133.2,295.2 134.0,294.7 134.7,294.2 135.4,293.8 136.2,293.3 136.9,292.8 137.6,292.4 138.4,291.9 139.1,291.4 139.8,291.0 140.6,290.5 141.3,290.1 142.0,289.6 142.8,289.1 143.5,288.7 144.2,288.2 145.0,287.8 145.7,287.3 146.4,286.8 147.2,286.4 147.9,285.9 148.6,285.5 149.4,285.0 150.1,284.6 150.8,284.2 151.6,283.7 152.3,283.3 153.0,282.8 153.8,282.4 154.5,281.9 155.3,281.5 156.0,281.1 156.7,280.6 157.5,280.2 158.2,279.7 158.9,279.3 159.7,278.9 160.4,278.5 161.1,278.0 161.9,277.6 162.6,277.2 163.3,276.7 164.1,276.3 164.8,275.9 165.5,275.5 166.3,275.1 167.0,274.6 167.7,274.2 168.5,273.8 169.2,273.4 169.9,273.0 170.7,272.6 171.4,272.1 172.1,271.7 172.9,271.3 173.6,270.9 174.3,270.5 175.1,270.1 175.8,269.7 176.5,269.3 177.3,268.9 178.0,268.5 178.7,268.1 179.5,267.7 180.2,267.3 180.9,266.9 181.7,266.5 182.4,266.1 183.2,265.7 183.9,265.4 184.6,265.0 185.4,264.6 186.1,264.2 186.8,263.8 187.6,263.4 188.3,263.0 189.0,262.7 189.8,262.3 190.5,261.9 191.2,261.5 192.0,261.2 192.7,260.8 193.4,260.4 194.2,260.0 194.9,259.7 195.6,259.3 196.4,258.9 197.1,258.6 197.8,258.2 198.6,257.8 199.3,257.5 200.0,257.1 200.8,256.8 201.5,256.4 202.2,256.1 203.0,255.7 203.7,255.3 204.4,255.0 205.2,254.6 205.9,254.3 206.6,253.9 207.4,253.6 208.1,253.2 208.8,252.9 209.6,252.5 210.3,252.2 211.1,251.9 211.8,251.5 212.5,251.2 213.3,250.8 214.0,250.5 214.7,250.2 215.5,249.8 216.2,249.5 216.9,249.2 217.7,248.8 218.4,248.5 219.1,248.2 219.9,247.8 220.6,247.5 221.3,247.2 222.1,246.8 222.8,246.5 223.5,246.2 224.3,245.9 225.0,245.5 225.7,245.2 226.5,244.9 227.2,244.6 227.9,244.2 228.7,243.9 229.4,243.6 230.1,243.3 230.9,243.0 231.6,242.6 232.3,242.3 233.1,242.0 233.8,241.7 234.5,241.4 235.3,241.1 236.0,240.7 236.7,240.4 237.5,240.1 238.2,239.8 239.0,239.5 239.7,239.2 240.4,238.9 241.2,238.6 241.9,238.2 242.6,237.9 243.4,237.6 244.1,237.3 244.8,237.0 245.6,236.7 246.3,236.4 247.0,236.1 247.8,235.8 248.5,235.5 249.2,235.1 250.0,234.8 250.7,234.5 251.4,234.2 252.2,233.9 252.9,233.6 253.6,233.3 254.4,233.0 255.1,232.7 255.8,232.4 256.6,232.1 257.3,231.7 258.0,231.4 258.8,231.1 259.5,230.8 260.2,230.5 261.0,230.2 261.7,229.9 262.4,229.6 263.2,229.3 263.9,229.0 264.6,228.6 265.4,228.3 266.1,228.0 266.8,227.7 267.6,227.4 268.3,227.1 269.1,226.8 269.8,226.5 270.5,226.1 271.3,225.8 272.0,225.5 272.7,225.2 273.5,224.9 274.2,224.6 274.9,224.2 275.7,223.9 276.4,223.6 277.1,223.3 277.9,223.0 278.6,222.6 279.3,222.3 280.1,222.0 280.8,221.7 281.5,221.3 282.3,221.0 283.0,220.7 283.7,220.4 284.5,220.0 285.2,219.7 285.9,219.4 286.7,219.0 287.4,218.7 288.1,218.4 288.9,218.0 289.6,217.7 290.3,217.4 291.1,217.0 291.8,216.7 292.5,216.4 293.3,216.0 294.0,215.7 294.7,215.3 295.5,215.0 296.2,214.7 297.0,214.3 297.7,214.0 298.4,213.6 299.2,213.3 299.9,212.9 300.6,212.6 301.4,212.2 302.1,211.9 302.8,211.5 303.6,211.1 304.3,210.8 305.0,210.4 305.8,210.1 306.5,209.7 307.2,209.4 308.0,209.0 308.7,208.6 309.4,208.3 310.2,207.9 310.9,207.5 311.6,207.2 312.4,206.8 313.1,206.4 313.8,206.0 314.6,205.7 315.3,205.3 316.0,204.9 316.8,204.5 317.5,204.2 318.2,203.8 319.0,203.4 319.7,203.0 320.4,202.6 321.2,202.2 321.9,201.8 322.6,201.5 323.4,201.1 324.1,200.7 324.9,200.3 325.6,199.9 326.3,199.5 327.1,199.1 327.8,198.7 328.5,198.3 329.3,197.9 330.0,197.5 330.7,197.1 331.5,196.7 332.2,196.3 332.9,195.9 333.7,195.5 334.4,195.1 335.1,194.6 335.9,194.2 336.6,193.8 337.3,193.4 338.1,193.0 338.8,192.6 339.5,192.1 340.3,191.7 341.0,191.3 341.7,190.9 342.5,190.5 343.2,190.0 343.9,189.6 344.7,189.2 345.4,188.7 346.1,188.3 346.9,187.9 347.6,187.5 348.3,187.0 349.1,186.6 349.8,186.1 350.5,185.7 351.3,185.3 352.0,184.8 352.8,184.4 353.5,183.9 354.2,183.5 355.0,183.0 355.7,182.6 356.4,182.2 357.2,181.7 357.9,181.3 358.6,180.8 359.4,180.4 360.1,179.9 360.8,179.4 361.6,179.0 362.3,178.5 363.0,178.1 363.8,177.6 364.5,177.1 365.2,176.7 366.0,176.2 366.7,175.8 367.4,175.3 368.2,174.8 368.9,174.4 369.6,173.9 370.4,173.4 371.1,173.0 371.8,172.5 372.6,172.0 373.3,171.5 374.0,171.1 374.8,170.6 375.5,170.1 376.2,169.6 377.0,169.1 377.7,168.7 378.4,168.2 379.2,167.7 379.9,167.2 380.7,166.7 381.4,166.3 382.1,165.8 382.9,165.3 383.6,164.8 384.3,164.3 385.1,163.8 385.8,163.3 386.5,162.8 387.3,162.3 388.0,161.8 388.7,161.4 389.5,160.9 390.2,160.4 390.9,159.9 391.7,159.4 392.4,158.9 393.1,158.4 393.9,157.9 394.6,157.4 395.3,156.9 396.1,156.4 396.8,155.9 397.5,155.3 398.3,154.8 399.0,154.3 399.7,153.8 400.5,153.3 401.2,152.8 401.9,152.3 402.7,151.8 403.4,151.3 404.1,150.8 404.9,150.3 405.6,149.7 406.3,149.2 407.1,148.7 407.8,148.2 408.6,147.7 409.3,147.2 410.0,146.6 410.8,146.1 411.5,145.6 412.2,145.1 413.0,144.6 413.7,144.0 414.4,143.5 415.2,143.0 415.9,142.5 416.6,141.9 417.4,141.4 418.1,140.9 418.8,140.4 419.6,139.8 420.3,139.3 421.0,138.8 421.8,138.2 422.5,137.7 423.2,137.2 424.0,136.7 424.7,136.1 425.4,135.6 426.2,135.1 426.9,134.5 427.6,134.0 428.4,133.5 429.1,132.9 429.8,132.4 430.6,131.8 431.3,131.3 432.0,130.8 432.8,130.2 433.5,129.7 434.2,129.2 435.0,128.6 435.7,128.1 436.5,127.5"/>
</g>
<g font-size="27.4px">
<text x="105.76" y="455.8" text-anchor="middle">-2</text>
<text x="179.18" y="455.8" text-anchor="middle">-1</text>
<text x="253.90" y="455.8" text-anchor="middle">0</text>
<text x="327.32" y="455.8" text-anchor="middle">1</text>
<text x="400.74" y="455.8" text-anchor="middle">2</text>
<text x="57.35" y="428.20" text-anchor="end">-3</text>
<text x="57.35" y="366.50" text-anchor="end">-2</text>
<text x="57.35" y="304.80" text-anchor="end">-1</text>
<text x="57.35" y="243.10" text-anchor="end">0</text>
<text x="57.35" y="181.40" text-anchor="end">1</text>
<text x="57.35" y="119.70" text-anchor="end">2</text>
<text x="57.35" y="58.00" text-anchor="end">3</text>
</g>
<g font-size="30.1px">
<text x="253.90" y="491.5" text-anchor="middle">Displacement</text>
<text transform="translate(21.70 234.40) rotate(-90)" text-anchor="middle">Force</text>
</g>
<rect x="528.50" y="48.50" width="367.10" height="370.20" fill="none" stroke="#000" stroke-width="2.2"/>
<path d="M565.21 418.70v-4.7M565.21 48.50v4.7M638.63 418.70v-4.7M638.63 48.50v4.7M712.05 418.70v-4.7M712.05 48.50v4.7M785.47 418.70v-4.7M785.47 48.50v4.7M858.89 418.70v-4.7M858.89 48.50v4.7M528.50 357.00h4.7M895.60 357.00h-4.7M528.50 295.30h4.7M895.60 295.30h-4.7M528.50 233.60h4.7M895.60 233.60h-4.7M528.50 171.90h4.7M895.60 171.90h-4.7M528.50 110.20h4.7M895.60 110.20h-4.7" stroke="#000" stroke-width="2.2" fill="none"/>
<clipPath id="c1"><rect x="527.00" y="47.00" width="370.10" height="373.20"/></clipPath>
<g clip-path="url(#c1)" fill="none" stroke-width="2.8" stroke-linejoin="round">
<polyline stroke="#000000" points="528.5,79.4 529.2,79.4 530.0,79.4 530.7,79.4 531.4,79.4 532.2,79.4 532.9,79.4 533.6,79.4 534.4,79.4 535.1,79.4 535.8,79.4 536.6,79.4 537.3,79.4 538.0,79.4 538.8,79.4 539.5,79.4 540.2,79.4 541.0,79.4 541.7,79.4 542.4,79.4 543.2,79.4 543.9,79.4 544.7,79.4 545.4,79.4 546.1,79.4 546.9,79.4 547.6,79.4 548.3,79.4 549.1,79.4 549.8,79.4 550.5,79.4 551.3,79.4 552.0,79.4 552.7,79.4 553.5,79.4 554.2,79.4 554.9,79.4 555.7,79.4 556.4,79.4 557.1,79.4 557.9,79.4 558.6,79.4 559.3,79.4 560.1,79.4 560.8,79.4 561.5,79.4 562.3,79.4 563.0,79.4 563.7,79.4 564.5,79.4 565.2,79.4 565.9,79.4 566.7,79.4 567.4,79.4 568.1,79.4 568.9,79.4 569.6,79.4 570.3,79.4 571.1,79.4 571.8,79.4 572.6,79.4 573.3,79.4 574.0,79.4 574.8,79.4 575.5,79.4 576.2,79.4 577.0,79.4 577.7,79.4 578.4,79.4 579.2,79.4 579.9,79.4 580.6,79.4 581.4,79.4 582.1,79.4 582.8,79.4 583.6,79.4 584.3,79.4 585.0,79.4 585.8,79.4 586.5,79.4 587.2,79.4 588.0,79.4 588.7,79.4 589.4,79.4 590.2,79.4 590.9,79.4 591.6,79.4 592.4,79.4 593.1,79.4 593.8,79.4 594.6,79.4 595.3,79.4 596.0,79.4 596.8,79.4 597.5,79.4 598.2,79.4 599.0,79.4 599.7,79.4 600.5,79.4 601.2,79.4 601.9,79.4 602.7,79.4 603.4,79.4 604.1,79.4 604.9,79.4 605.6,79.4 606.3,79.4 607.1,79.4 607.8,79.4 608.5,79.4 609.3,79.4 610.0,79.4 610.7,79.4 611.5,79.4 612.2,79.4 612.9,79.4 613.7,79.4 614.4,79.4 615.1,79.4 615.9,79.4 616.6,79.4 617.3,79.4 618.1,79.4 618.8,79.4 619.5,79.4 620.3,79.4 621.0,79.4 621.7,79.4 622.5,79.4 623.2,79.4 623.9,79.4 624.7,79.4 625.4,79.4 626.1,79.4 626.9,79.4 627.6,79.4 628.4,79.4 629.1,79.4 629.8,79.4 630.6,79.4 631.3,79.4 632.0,79.4 632.8,79.4 633.5,79.4 634.2,79.4 635.0,79.4 635.7,79.4 636.4,79.4 637.2,79.4 637.9,79.4 638.6,79.4 639.4,79.4 640.1,79.4 640.8,79.4 641.6,79.4 642.3,79.4 643.0,79.4 643.8,79.4 644.5,79.4 645.2,79.4 646.0,79.4 646.7,79.4 647.4,79.4 648.2,79.4 648.9,79.4 649.6,79.4 650.4,79.4 651.1,79.4 651.8,79.4 652.6,79.4 653.3,79.4 654.0,79.4 654.8,79.4 655.5,79.4 656.3,79.4 657.0,79.4 657.7,79.4 658.5,79.4 659.2,79.4 659.9,79.4 660.7,79.4 661.4,79.4 662.1,79.4 662.9,79.4 663.6,79.4 664.3,79.4 665.1,79.4 665.8,79.4 666.5,79.4 667.3,79.4 668.0,79.4 668.7,79.4 669.5,79.4 670.2,79.4 670.9,79.4 671.7,79.4 672.4,79.4 673.1,79.4 673.9,79.4 674.6,79.4 675.3,79.4 676.1,79.4 676.8,79.4 677.5,79.4 678.3,79.4 679.0,79.4 679.7,79.4 680.5,79.4 681.2,79.4 681.9,79.4 682.7,79.4 683.4,79.4 684.2,79.4 684.9,79.4 685.6,79.4 686.4,79.4 687.1,79.4 687.8,79.4 688.6,79.4 689.3,79.4 690.0,79.4 690.8,79.4 691.5,79.4 692.2,79.4 693.0,79.4 693.7,79.4 694.4,79.4 695.2,79.4 695.9,79.4 696.6,79.4 697.4,79.4 698.1,79.4 698.8,79.4 699.6,79.4 700.3,79.4 701.0,79.4 701.8,79.4 702.5,79.4 703.2,79.4 704.0,79.4 704.7,79.4 705.4,79.4 706.2,79.4 706.9,79.4 707.6,79.4 708.4,79.4 709.1,79.4 709.8,79.4 710.6,79.4 711.3,79.4 712.0,79.4 712.8,79.4 713.5,79.4 714.3,79.4 715.0,79.4 715.7,79.4 716.5,79.4 717.2,79.4 717.9,79.4 718.7,79.4 719.4,79.4 720.1,79.4 720.9,79.4 721.6,79.4 722.3,79.4 723.1,79.4 723.8,79.4 724.5,79.4 725.3,79.4 726.0,79.4 726.7,79.4 727.5,79.4 728.2,79.4 728.9,79.4 729.7,79.4 730.4,79.4 731.1,79.4 731.9,79.4 732.6,79.4 733.3,79.4 734.1,79.4 734.8,79.4 735.5,79.4 736.3,79.4 737.0,79.4 737.7,79.4 738.5,79.4 739.2,79.4 739.9,79.4 740.7,79.4 741.4,79.4 742.2,79.4 742.9,79.4 743.6,79.4 744.4,79.4 745.1,79.4 745.8,79.4 746.6,79.4 747.3,79.4 748.0,79.4 748.8,79.4 749.5,79.4 750.2,79.4 751.0,79.4 751.7,79.4 752.4,79.4 753.2,79.4 753.9,79.4 754.6,79.4 755.4,79.4 756.1,79.4 756.8,79.4 757.6,79.4 758.3,79.4 759.0,79.4 759.8,79.4 760.5,79.4 761.2,79.4 762.0,79.4 762.7,79.4 763.4,79.4 764.2,79.4 764.9,79.4 765.6,79.4 766.4,79.4 767.1,79.4 767.8,79.4 768.6,79.4 769.3,79.4 770.1,79.4 770.8,79.4 771.5,79.4 772.3,79.4 773.0,79.4 773.7,79.4 774.5,79.4 775.2,79.4 775.9,79.4 776.7,79.4 777.4,79.4 778.1,79.4 778.9,79.4 779.6,79.4 780.3,79.4 781.1,79.4 781.8,79.4 782.5,79.4 783.3,79.4 784.0,79.4 784.7,79.4 785.5,79.4 786.2,79.4 786.9,79.4 787.7,79.4 788.4,79.4 789.1,79.4 789.9,79.4 790.6,79.4 791.3,79.4 792.1,79.4 792.8,79.4 793.5,79.4 794.3,79.4 795.0,79.4 795.7,79.4 796.5,79.4 797.2,79.4 798.0,79.4 798.7,79.4 799.4,79.4 800.2,79.4 800.9,79.4 801.6,79.4 802.4,79.4 803.1,79.4 803.8,79.4 804.6,79.4 805.3,79.4 806.0,79.4 806.8,79.4 807.5,79.4 808.2,79.4 809.0,79.4 809.7,79.4 810.4,79.4 811.2,79.4 811.9,79.4 812.6,79.4 813.4,79.4 814.1,79.4 814.8,79.4 815.6,79.4 816.3,79.4 817.0,79.4 817.8,79.4 818.5,79.4 819.2,79.4 820.0,79.4 820.7,79.4 821.4,79.4 822.2,79.4 822.9,79.4 823.6,79.4 824.4,79.4 825.1,79.4 825.9,79.4 826.6,79.4 827.3,79.4 828.1,79.4 828.8,79.4 829.5,79.4 830.3,79.4 831.0,79.4 831.7,79.4 832.5,79.4 833.2,79.4 833.9,79.4 834.7,79.4 835.4,79.4 836.1,79.4 836.9,79.4 837.6,79.4 838.3,79.4 839.1,79.4 839.8,79.4 840.5,79.4 841.3,79.4 842.0,79.4 842.7,79.4 843.5,79.4 844.2,79.4 844.9,79.4 845.7,79.4 846.4,79.4 847.1,79.4 847.9,79.4 848.6,79.4 849.3,79.4 850.1,79.4 850.8,79.4 851.5,79.4 852.3,79.4 853.0,79.4 853.8,79.4 854.5,79.4 855.2,79.4 856.0,79.4 856.7,79.4 857.4,79.4 858.2,79.4 858.9,79.4 859.6,79.4 860.4,79.4 861.1,79.4 861.8,79.4 862.6,79.4 863.3,79.4 864.0,79.4 864.8,79.4 865.5,79.4 866.2,79.4 867.0,79.4 867.7,79.4 868.4,79.4 869.2,79.4 869.9,79.4 870.6,79.4 871.4,79.4 872.1,79.4 872.8,79.4 873.6,79.4 874.3,79.4 875.0,79.4 875.8,79.4 876.5,79.4 877.2,79.4 878.0,79.4 878.7,79.4 879.4,79.4 880.2,79.4 880.9,79.4 881.7,79.4 882.4,79.4 883.1,79.4 883.9,79.4 884.6,79.4 885.3,79.4 886.1,79.4 886.8,79.4 887.5,79.4 888.3,79.4 889.0,79.4 889.7,79.4 890.5,79.4 891.2,79.4 891.9,79.4 892.7,79.4 893.4,79.4 894.1,79.4 894.9,79.4 895.6,79.4"/>
<polyline stroke="#0000ff" points="528.5,79.4 529.2,79.4 530.0,79.4 530.7,79.4 531.4,79.4 532.2,79.4 532.9,79.4 533.6,79.4 534.4,79.4 535.1,79.4 535.8,79.4 536.6,79.4 537.3,79.4 538.0,79.4 538.8,79.4 539.5,79.4 540.2,79.4 541.0,79.4 541.7,79.4 542.4,79.4 543.2,79.4 543.9,79.4 544.7,79.4 545.4,79.4 546.1,79.4 546.9,79.4 547.6,79.4 548.3,79.4 549.1,79.4 549.8,79.4 550.5,79.4 551.3,79.4 552.0,79.4 552.7,79.4 553.5,79.4 554.2,79.4 554.9,79.4 555.7,79.4 556.4,79.4 557.1,79.4 557.9,79.4 558.6,79.4 559.3,79.4 560.1,79.4 560.8,79.4 561.5,79.4 562.3,79.4 563.0,79.4 563.7,79.4 564.5,79.4 565.2,79.4 565.9,79.4 566.7,79.4 567.4,79.4 568.1,79.4 568.9,79.4 569.6,79.4 570.3,79.4 571.1,79.4 571.8,79.4 572.6,79.4 573.3,79.4 574.0,79.4 574.8,79.4 575.5,79.4 576.2,79.4 577.0,79.4 577.7,79.4 578.4,79.4 579.2,79.4 579.9,79.4 580.6,79.4 581.4,79.4 582.1,79.4 582.8,79.4 583.6,79.4 584.3,79.4 585.0,79.4 585.8,79.4 586.5,79.4 587.2,79.4 588.0,79.4 588.7,79.4 589.4,79.4 590.2,79.4 590.9,79.4 591.6,79.4 592.4,79.4 593.1,79.4 593.8,79.4 594.6,79.4 595.3,79.4 596.0,79.4 596.8,79.4 597.5,79.4 598.2,79.4 599.0,79.4 599.7,79.4 600.5,79.4 601.2,79.4 601.9,79.4 602.7,79.4 603.4,79.4 604.1,79.4 604.9,79.4 605.6,79.5 606.3,79.5 607.1,79.5 607.8,79.5 608.5,79.5 609.3,79.5 610.0,79.5 610.7,79.5 611.5,79.5 612.2,79.5 612.9,79.5 613.7,79.5 614.4,79.5 615.1,79.5 615.9,79.5 616.6,79.5 617.3,79.5 618.1,79.5 618.8,79.5 619.5,79.5 620.3,79.5 621.0,79.5 621.7,79.5 622.5,79.5 623.2,79.5 623.9,79.5 624.7,79.5 625.4,79.5 626.1,79.5 626.9,79.5 627.6,79.6 628.4,79.6 629.1,79.6 629.8,79.6 630.6,79.6 631.3,79.6 632.0,79.6 632.8,79.6 633.5,79.6 634.2,79.6 635.0,79.6 635.7,79.6 636.4,79.6 637.2,79.6 637.9,79.6 638.6,79.7 639.4,79.7 640.1,79.7 640.8,79.7 641.6,79.7 642.3,79.7 643.0,79.7 643.8,79.7 644.5,79.7 645.2,79.8 646.0,79.8 646.7,79.8 647.4,79.8 648.2,79.8 648.9,79.8 649.6,79.8 650.4,79.9 651.1,79.9 651.8,79.9 652.6,79.9 653.3,79.9 654.0,80.0 654.8,80.0 655.5,80.0 656.3,80.0 657.0,80.1 657.7,80.1 658.5,80.1 659.2,80.2 659.9,80.2 660.7,80.2 661.4,80.3 662.1,80.3 662.9,80.3 663.6,80.4 664.3,80.4 665.1,80.5 665.8,80.5 666.5,80.6 667.3,80.7 668.0,80.7 668.7,80.8 669.5,80.9 670.2,80.9 670.9,81.0 671.7,81.1 672.4,81.2 673.1,81.3 673.9,81.4 674.6,81.5 675.3,81.7 676.1,81.8 676.8,82.0 677.5,82.1 678.3,82.3 679.0,82.5 679.7,82.7 680.5,82.9 681.2,83.2 681.9,83.5 682.7,83.8 683.4,84.1 684.2,84.4 684.9,84.8 685.6,85.3 686.4,85.7 687.1,86.3 687.8,86.9 688.6,87.5 689.3,88.3 690.0,89.1 690.8,90.0 691.5,91.1 692.2,92.3 693.0,93.6 693.7,95.2 694.4,96.9 695.2,98.9 695.9,101.2 696.6,103.9 697.4,106.9 698.1,110.5 698.8,114.7 699.6,119.6 700.3,125.3 701.0,132.0 701.8,139.9 702.5,149.3 703.2,160.3 704.0,173.3 704.7,188.4 705.4,206.0 706.2,226.2 706.9,249.0 707.6,273.9 708.4,300.1 709.1,326.3 709.8,350.4 710.6,370.2 711.3,383.3 712.0,387.8 712.8,383.3 713.5,370.2 714.3,350.4 715.0,326.3 715.7,300.1 716.5,273.9 717.2,249.0 717.9,226.2 718.7,206.0 719.4,188.4 720.1,173.3 720.9,160.3 721.6,149.3 722.3,139.9 723.1,132.0 723.8,125.3 724.5,119.6 725.3,114.7 726.0,110.5 726.7,106.9 727.5,103.9 728.2,101.2 728.9,98.9 729.7,96.9 730.4,95.2 731.1,93.6 731.9,92.3 732.6,91.1 733.3,90.0 734.1,89.1 734.8,88.3 735.5,87.5 736.3,86.9 737.0,86.3 737.7,85.7 738.5,85.3 739.2,84.8 739.9,84.4 740.7,84.1 741.4,83.8 742.2,83.5 742.9,83.2 743.6,82.9 744.4,82.7 745.1,82.5 745.8,82.3 746.6,82.1 747.3,82.0 748.0,81.8 748.8,81.7 749.5,81.5 750.2,81.4 751.0,81.3 751.7,81.2 752.4,81.1 753.2,81.0 753.9,80.9 754.6,80.9 755.4,80.8 756.1,80.7 756.8,80.7 757.6,80.6 758.3,80.5 759.0,80.5 759.8,80.4 760.5,80.4 761.2,80.3 762.0,80.3 762.7,80.3 763.4,80.2 764.2,80.2 764.9,80.2 765.6,80.1 766.4,80.1 767.1,80.1 767.8,80.0 768.6,80.0 769.3,80.0 770.1,80.0 770.8,79.9 771.5,79.9 772.3,79.9 773.0,79.9 773.7,79.9 774.5,79.8 775.2,79.8 775.9,79.8 776.7,79.8 777.4,79.8 778.1,79.8 778.9,79.8 779.6,79.7 780.3,79.7 781.1,79.7 781.8,79.7 782.5,79.7 783.3,79.7 784.0,79.7 784.7,79.7 785.5,79.7 786.2,79.6 786.9,79.6 787.7,79.6 788.4,79.6 789.1,79.6 789.9,79.6 790.6,79.6 791.3,79.6 792.1,79.6 792.8,79.6 793.5,79.6 794.3,79.6 795.0,79.6 795.7,79.6 796.5,79.6 797.2,79.5 798.0,79.5 798.7,79.5 799.4,79.5 800.2,79.5 800.9,79.5 801.6,79.5 802.4,79.5 803.1,79.5 803.8,79.5 804.6,79.5 805.3,79.5 806.0,79.5 806.8,79.5 807.5,79.5 808.2,79.5 809.0,79.5 809.7,79.5 810.4,79.5 811.2,79.5 811.9,79.5 812.6,79.5 813.4,79.5 814.1,79.5 814.8,79.5 815.6,79.5 816.3,79.5 817.0,79.5 817.8,79.5 818.5,79.5 819.2,79.4 820.0,79.4 820.7,79.4 821.4,79.4 822.2,79.4 822.9,79.4 823.6,79.4 824.4,79.4 825.1,79.4 825.9,79.4 826.6,79.4 827.3,79.4 828.1,79.4 828.8,79.4 829.5,79.4 830.3,79.4 831.0,79.4 831.7,79.4 832.5,79.4 833.2,79.4 833.9,79.4 834.7,79.4 835.4,79.4 836.1,79.4 836.9,79.4 837.6,79.4 838.3,79.4 839.1,79.4 839.8,79.4 840.5,79.4 841.3,79.4 842.0,79.4 842.7,79.4 843.5,79.4 844.2,79.4 844.9,79.4 845.7,79.4 846.4,79.4 847.1,79.4 847.9,79.4 848.6,79.4 849.3,79.4 850.1,79.4 850.8,79.4 851.5,79.4 852.3,79.4 853.0,79.4 853.8,79.4 854.5,79.4 855.2,79.4 856.0,79.4 856.7,79.4 857.4,79.4 858.2,79.4 858.9,79.4 859.6,79.4 860.4,79.4 861.1,79.4 861.8,79.4 862.6,79.4 863.3,79.4 864.0,79.4 864.8,79.4 865.5,79.4 866.2,79.4 867.0,79.4 867.7,79.4 868.4,79.4 869.2,79.4 869.9,79.4 870.6,79.4 871.4,79.4 872.1,79.4 872.8,79.4 873.6,79.4 874.3,79.4 875.0,79.4 875.8,79.4 876.5,79.4 877.2,79.4 878.0,79.4 878.7,79.4 879.4,79.4 880.2,79.4 880.9,79.4 881.7,79.4 882.4,79.4 883.1,79.4 883.9,79.4 884.6,79.4 885.3,79.4 886.1,79.4 886.8,79.4 887.5,79.4 888.3,79.4 889.0,79.4 889.7,79.4 890.5,79.4 891.2,79.4 891.9,79.4 892.7,79.4 893.4,79.4 894.1,79.4 894.9,79.4 895.6,79.4"/>
<polyline stroke="#ff00ff" points="528.5,79.8 529.2,79.8 530.0,79.8 530.7,79.8 531.4,79.8 532.2,79.8 532.9,79.8 533.6,79.9 534.4,79.9 535.1,79.9 535.8,79.9 536.6,79.9 537.3,79.9 538.0,79.9 538.8,79.9 539.5,79.9 540.2,79.9 541.0,79.9 541.7,79.9 542.4,79.9 543.2,79.9 543.9,79.9 544.7,80.0 545.4,80.0 546.1,80.0 546.9,80.0 547.6,80.0 548.3,80.0 549.1,80.0 549.8,80.0 550.5,80.0 551.3,80.0 552.0,80.0 552.7,80.0 553.5,80.1 554.2,80.1 554.9,80.1 555.7,80.1 556.4,80.1 557.1,80.1 557.9,80.1 558.6,80.1 559.3,80.1 560.1,80.1 560.8,80.2 561.5,80.2 562.3,80.2 563.0,80.2 563.7,80.2 564.5,80.2 565.2,80.2 565.9,80.2 566.7,80.3 567.4,80.3 568.1,80.3 568.9,80.3 569.6,80.3 570.3,80.3 571.1,80.3 571.8,80.4 572.6,80.4 573.3,80.4 574.0,80.4 574.8,80.4 575.5,80.4 576.2,80.4 577.0,80.5 577.7,80.5 578.4,80.5 579.2,80.5 579.9,80.5 580.6,80.6 581.4,80.6 582.1,80.6 582.8,80.6 583.6,80.6 584.3,80.6 585.0,80.7 585.8,80.7 586.5,80.7 587.2,80.7 588.0,80.8 588.7,80.8 589.4,80.8 590.2,80.8 590.9,80.9 591.6,80.9 592.4,80.9 593.1,80.9 593.8,81.0 594.6,81.0 595.3,81.0 596.0,81.0 596.8,81.1 597.5,81.1 598.2,81.1 599.0,81.2 599.7,81.2 600.5,81.2 601.2,81.3 601.9,81.3 602.7,81.3 603.4,81.4 604.1,81.4 604.9,81.4 605.6,81.5 606.3,81.5 607.1,81.6 607.8,81.6 608.5,81.7 609.3,81.7 610.0,81.7 610.7,81.8 611.5,81.8 612.2,81.9 612.9,81.9 613.7,82.0 614.4,82.0 615.1,82.1 615.9,82.1 616.6,82.2 617.3,82.3 618.1,82.3 618.8,82.4 619.5,82.4 620.3,82.5 621.0,82.6 621.7,82.6 622.5,82.7 623.2,82.8 623.9,82.9 624.7,82.9 625.4,83.0 626.1,83.1 626.9,83.2 627.6,83.3 628.4,83.3 629.1,83.4 629.8,83.5 630.6,83.6 631.3,83.7 632.0,83.8 632.8,83.9 633.5,84.0 634.2,84.1 635.0,84.3 635.7,84.4 636.4,84.5 637.2,84.6 637.9,84.7 638.6,84.9 639.4,85.0 640.1,85.1 640.8,85.3 641.6,85.4 642.3,85.6 643.0,85.7 643.8,85.9 644.5,86.1 645.2,86.2 646.0,86.4 646.7,86.6 647.4,86.8 648.2,87.0 648.9,87.2 649.6,87.4 650.4,87.6 651.1,87.8 651.8,88.1 652.6,88.3 653.3,88.5 654.0,88.8 654.8,89.0 655.5,89.3 656.3,89.6 657.0,89.9 657.7,90.2 658.5,90.5 659.2,90.8 659.9,91.1 660.7,91.5 661.4,91.8 662.1,92.2 662.9,92.5 663.6,92.9 664.3,93.3 665.1,93.7 665.8,94.2 666.5,94.6 667.3,95.1 668.0,95.5 668.7,96.0 669.5,96.5 670.2,97.0 670.9,97.6 671.7,98.1 672.4,98.7 673.1,99.3 673.9,99.9 674.6,100.5 675.3,101.2 676.1,101.8 676.8,102.5 677.5,103.2 678.3,103.9 679.0,104.7 679.7,105.5 680.5,106.2 681.2,107.0 681.9,107.9 682.7,108.7 683.4,109.6 684.2,110.5 684.9,111.4 685.6,112.3 686.4,113.3 687.1,114.2 687.8,115.2 688.6,116.2 689.3,117.2 690.0,118.3 690.8,119.3 691.5,120.3 692.2,121.4 693.0,122.4 693.7,123.5 694.4,124.6 695.2,125.6 695.9,126.7 696.6,127.7 697.4,128.7 698.1,129.7 698.8,130.7 699.6,131.7 700.3,132.7 701.0,133.6 701.8,134.4 702.5,135.3 703.2,136.1 704.0,136.8 704.7,137.5 705.4,138.2 706.2,138.8 706.9,139.3 707.6,139.7 708.4,140.1 709.1,140.5 709.8,140.7 710.6,140.9 711.3,141.0 712.0,141.1 712.8,141.0 713.5,140.9 714.3,140.7 715.0,140.5 715.7,140.1 716.5,139.7 717.2,139.3 717.9,138.8 718.7,138.2 719.4,137.5 720.1,136.8 720.9,136.1 721.6,135.3 722.3,134.4 723.1,133.6 723.8,132.7 724.5,131.7 725.3,130.7 726.0,129.7 726.7,128.7 727.5,127.7 728.2,126.7 728.9,125.6 729.7,124.6 730.4,123.5 731.1,122.4 731.9,121.4 732.6,120.3 733.3,119.3 734.1,118.3 734.8,117.2 735.5,116.2 736.3,115.2 737.0,114.2 737.7,113.3 738.5,112.3 739.2,111.4 739.9,110.5 740.7,109.6 741.4,108.7 742.2,107.9 742.9,107.0 743.6,106.2 744.4,105.5 745.1,104.7 745.8,103.9 746.6,103.2 747.3,102.5 748.0,101.8 748.8,101.2 749.5,100.5 750.2,99.9 751.0,99.3 751.7,98.7 752.4,98.1 753.2,97.6 753.9,97.0 754.6,96.5 755.4,96.0 756.1,95.5 756.8,95.1 757.6,94.6 758.3,94.2 759.0,93.7 759.8,93.3 760.5,92.9 761.2,92.5 762.0,92.2 762.7,91.8 763.4,91.5 764.2,91.1 764.9,90.8 765.6,90.5 766.4,90.2 767.1,89.9 767.8,89.6 768.6,89.3 769.3,89.0 770.1,88.8 770.8,88.5 771.5,88.3 772.3,88.1 773.0,87.8 773.7,87.6 774.5,87.4 775.2,87.2 775.9,87.0 776.7,86.8 777.4,86.6 778.1,86.4 778.9,86.2 779.6,86.1 780.3,85.9 781.1,85.7 781.8,85.6 782.5,85.4 783.3,85.3 784.0,85.1 784.7,85.0 785.5,84.9 786.2,84.7 786.9,84.6 787.7,84.5 788.4,84.4 789.1,84.3 789.9,84.1 790.6,84.0 791.3,83.9 792.1,83.8 792.8,83.7 793.5,83.6 794.3,83.5 795.0,83.4 795.7,83.3 796.5,83.3 797.2,83.2 798.0,83.1 798.7,83.0 799.4,82.9 800.2,82.9 800.9,82.8 801.6,82.7 802.4,82.6 803.1,82.6 803.8,82.5 804.6,82.4 805.3,82.4 806.0,82.3 806.8,82.3 807.5,82.2 808.2,82.1 809.0,82.1 809.7,82.0 810.4,82.0 811.2,81.9 811.9,81.9 812.6,81.8 813.4,81.8 814.1,81.7 814.8,81.7 815.6,81.7 816.3,81.6 817.0,81.6 817.8,81.5 818.5,81.5 819.2,81.4 820.0,81.4 820.7,81.4 821.4,81.3 822.2,81.3 822.9,81.3 823.6,81.2 824.4,81.2 825.1,81.2 825.9,81.1 826.6,81.1 827.3,81.1 828.1,81.0 828.8,81.0 829.5,81.0 830.3,81.0 831.0,80.9 831.7,80.9 832.5,80.9 833.2,80.9 833.9,80.8 834.7,80.8 835.4,80.8 836.1,80.8 836.9,80.7 837.6,80.7 838.3,80.7 839.1,80.7 839.8,80.6 840.5,80.6 841.3,80.6 842.0,80.6 842.7,80.6 843.5,80.6 844.2,80.5 844.9,80.5 845.7,80.5 846.4,80.5 847.1,80.5 847.9,80.4 848.6,80.4 849.3,80.4 850.1,80.4 850.8,80.4 851.5,80.4 852.3,80.4 853.0,80.3 853.8,80.3 854.5,80.3 855.2,80.3 856.0,80.3 856.7,80.3 857.4,80.3 858.2,80.2 858.9,80.2 859.6,80.2 860.4,80.2 861.1,80.2 861.8,80.2 862.6,80.2 863.3,80.2 864.0,80.1 864.8,80.1 865.5,80.1 866.2,80.1 867.0,80.1 867.7,80.1 868.4,80.1 869.2,80.1 869.9,80.1 870.6,80.1 871.4,80.0 872.1,80.0 872.8,80.0 873.6,80.0 874.3,80.0 875.0,80.0 875.8,80.0 876.5,80.0 877.2,80.0 878.0,80.0 878.7,80.0 879.4,80.0 880.2,79.9 880.9,79.9 881.7,79.9 882.4,79.9 883.1,79.9 883.9,79.9 884.6,79.9 885.3,79.9 886.1,79.9 886.8,79.9 887.5,79.9 888.3,79.9 889.0,79.9 889.7,79.9 890.5,79.9 891.2,79.8 891.9,79.8 892.7,79.8 893.4,79.8 894.1,79.8 894.9,79.8 895.6,79.8"/>
<polyline stroke="#00ff00" points="528.5,80.7 529.2,80.7 530.0,80.7 530.7,80.7 531.4,80.7 532.2,80.8 532.9,80.8 533.6,80.8 534.4,80.8 535.1,80.8 535.8,80.8 536.6,80.9 537.3,80.9 538.0,80.9 538.8,80.9 539.5,80.9 540.2,80.9 541.0,81.0 541.7,81.0 542.4,81.0 543.2,81.0 543.9,81.0 544.7,81.0 545.4,81.1 546.1,81.1 546.9,81.1 547.6,81.1 548.3,81.1 549.1,81.2 549.8,81.2 550.5,81.2 551.3,81.2 552.0,81.3 552.7,81.3 553.5,81.3 554.2,81.3 554.9,81.3 555.7,81.4 556.4,81.4 557.1,81.4 557.9,81.4 558.6,81.5 559.3,81.5 560.1,81.5 560.8,81.5 561.5,81.6 562.3,81.6 563.0,81.6 563.7,81.7 564.5,81.7 565.2,81.7 565.9,81.7 566.7,81.8 567.4,81.8 568.1,81.8 568.9,81.9 569.6,81.9 570.3,81.9 571.1,82.0 571.8,82.0 572.6,82.0 573.3,82.1 574.0,82.1 574.8,82.1 575.5,82.2 576.2,82.2 577.0,82.3 577.7,82.3 578.4,82.3 579.2,82.4 579.9,82.4 580.6,82.5 581.4,82.5 582.1,82.5 582.8,82.6 583.6,82.6 584.3,82.7 585.0,82.7 585.8,82.8 586.5,82.8 587.2,82.9 588.0,82.9 588.7,83.0 589.4,83.0 590.2,83.1 590.9,83.1 591.6,83.2 592.4,83.2 593.1,83.3 593.8,83.3 594.6,83.4 595.3,83.4 596.0,83.5 596.8,83.6 597.5,83.6 598.2,83.7 599.0,83.8 599.7,83.8 600.5,83.9 601.2,84.0 601.9,84.0 602.7,84.1 603.4,84.2 604.1,84.2 604.9,84.3 605.6,84.4 606.3,84.5 607.1,84.5 607.8,84.6 608.5,84.7 609.3,84.8 610.0,84.9 610.7,84.9 611.5,85.0 612.2,85.1 612.9,85.2 613.7,85.3 614.4,85.4 615.1,85.5 615.9,85.6 616.6,85.7 617.3,85.8 618.1,85.9 618.8,86.0 619.5,86.1 620.3,86.2 621.0,86.3 621.7,86.4 622.5,86.5 623.2,86.6 623.9,86.8 624.7,86.9 625.4,87.0 626.1,87.1 626.9,87.2 627.6,87.4 628.4,87.5 629.1,87.6 629.8,87.8 630.6,87.9 631.3,88.1 632.0,88.2 632.8,88.3 633.5,88.5 634.2,88.6 635.0,88.8 635.7,89.0 636.4,89.1 637.2,89.3 637.9,89.4 638.6,89.6 639.4,89.8 640.1,90.0 640.8,90.1 641.6,90.3 642.3,90.5 643.0,90.7 643.8,90.9 644.5,91.1 645.2,91.3 646.0,91.5 646.7,91.7 647.4,91.9 648.2,92.1 648.9,92.3 649.6,92.5 650.4,92.7 651.1,93.0 651.8,93.2 652.6,93.4 653.3,93.7 654.0,93.9 654.8,94.1 655.5,94.4 656.3,94.6 657.0,94.9 657.7,95.1 658.5,95.4 659.2,95.7 659.9,95.9 660.7,96.2 661.4,96.5 662.1,96.8 662.9,97.0 663.6,97.3 664.3,97.6 665.1,97.9 665.8,98.2 666.5,98.5 667.3,98.8 668.0,99.1 668.7,99.4 669.5,99.7 670.2,100.0 670.9,100.3 671.7,100.6 672.4,101.0 673.1,101.3 673.9,101.6 674.6,101.9 675.3,102.2 676.1,102.6 676.8,102.9 677.5,103.2 678.3,103.6 679.0,103.9 679.7,104.2 680.5,104.5 681.2,104.9 681.9,105.2 682.7,105.5 683.4,105.8 684.2,106.2 684.9,106.5 685.6,106.8 686.4,107.1 687.1,107.4 687.8,107.7 688.6,108.0 689.3,108.3 690.0,108.6 690.8,108.9 691.5,109.2 692.2,109.5 693.0,109.7 693.7,110.0 694.4,110.3 695.2,110.5 695.9,110.8 696.6,111.0 697.4,111.2 698.1,111.5 698.8,111.7 699.6,111.9 700.3,112.1 701.0,112.2 701.8,112.4 702.5,112.6 703.2,112.7 704.0,112.9 704.7,113.0 705.4,113.1 706.2,113.2 706.9,113.3 707.6,113.4 708.4,113.5 709.1,113.5 709.8,113.6 710.6,113.6 711.3,113.6 712.0,113.6 712.8,113.6 713.5,113.6 714.3,113.6 715.0,113.5 715.7,113.5 716.5,113.4 717.2,113.3 717.9,113.2 718.7,113.1 719.4,113.0 720.1,112.9 720.9,112.7 721.6,112.6 722.3,112.4 723.1,112.2 723.8,112.1 724.5,111.9 725.3,111.7 726.0,111.5 726.7,111.2 727.5,111.0 728.2,110.8 728.9,110.5 729.7,110.3 730.4,110.0 731.1,109.7 731.9,109.5 732.6,109.2 733.3,108.9 734.1,108.6 734.8,108.3 735.5,108.0 736.3,107.7 737.0,107.4 737.7,107.1 738.5,106.8 739.2,106.5 739.9,106.2 740.7,105.8 741.4,105.5 742.2,105.2 742.9,104.9 743.6,104.5 744.4,104.2 745.1,103.9 745.8,103.6 746.6,103.2 747.3,102.9 748.0,102.6 748.8,102.2 749.5,101.9 750.2,101.6 751.0,101.3 751.7,101.0 752.4,100.6 753.2,100.3 753.9,100.0 754.6,99.7 755.4,99.4 756.1,99.1 756.8,98.8 757.6,98.5 758.3,98.2 759.0,97.9 759.8,97.6 760.5,97.3 761.2,97.0 762.0,96.8 762.7,96.5 763.4,96.2 764.2,95.9 764.9,95.7 765.6,95.4 766.4,95.1 767.1,94.9 767.8,94.6 768.6,94.4 769.3,94.1 770.1,93.9 770.8,93.7 771.5,93.4 772.3,93.2 773.0,93.0 773.7,92.7 774.5,92.5 775.2,92.3 775.9,92.1 776.7,91.9 777.4,91.7 778.1,91.5 778.9,91.3 779.6,91.1 780.3,90.9 781.1,90.7 781.8,90.5 782.5,90.3 783.3,90.1 784.0,90.0 784.7,89.8 785.5,89.6 786.2,89.4 786.9,89.3 787.7,89.1 788.4,89.0 789.1,88.8 789.9,88.6 790.6,88.5 791.3,88.3 792.1,88.2 792.8,88.1 793.5,87.9 794.3,87.8 795.0,87.6 795.7,87.5 796.5,87.4 797.2,87.2 798.0,87.1 798.7,87.0 799.4,86.9 800.2,86.8 800.9,86.6 801.6,86.5 802.4,86.4 803.1,86.3 803.8,86.2 804.6,86.1 805.3,86.0 806.0,85.9 806.8,85.8 807.5,85.7 808.2,85.6 809.0,85.5 809.7,85.4 810.4,85.3 811.2,85.2 811.9,85.1 812.6,85.0 813.4,84.9 814.1,84.9 814.8,84.8 815.6,84.7 816.3,84.6 817.0,84.5 817.8,84.5 818.5,84.4 819.2,84.3 820.0,84.2 820.7,84.2 821.4,84.1 822.2,84.0 822.9,84.0 823.6,83.9 824.4,83.8 825.1,83.8 825.9,83.7 826.6,83.6 827.3,83.6 828.1,83.5 828.8,83.4 829.5,83.4 830.3,83.3 831.0,83.3 831.7,83.2 832.5,83.2 833.2,83.1 833.9,83.1 834.7,83.0 835.4,83.0 836.1,82.9 836.9,82.9 837.6,82.8 838.3,82.8 839.1,82.7 839.8,82.7 840.5,82.6 841.3,82.6 842.0,82.5 842.7,82.5 843.5,82.5 844.2,82.4 844.9,82.4 845.7,82.3 846.4,82.3 847.1,82.3 847.9,82.2 848.6,82.2 849.3,82.1 850.1,82.1 850.8,82.1 851.5,82.0 852.3,82.0 853.0,82.0 853.8,81.9 854.5,81.9 855.2,81.9 856.0,81.8 856.7,81.8 857.4,81.8 858.2,81.7 858.9,81.7 859.6,81.7 860.4,81.7 861.1,81.6 861.8,81.6 862.6,81.6 863.3,81.5 864.0,81.5 864.8,81.5 865.5,81.5 866.2,81.4 867.0,81.4 867.7,81.4 868.4,81.4 869.2,81.3 869.9,81.3 870.6,81.3 871.4,81.3 872.1,81.3 872.8,81.2 873.6,81.2 874.3,81.2 875.0,81.2 875.8,81.1 876.5,81.1 877.2,81.1 878.0,81.1 878.7,81.1 879.4,81.0 880.2,81.0 880.9,81.0 881.7,81.0 882.4,81.0 883.1,81.0 883.9,80.9 884.6,80.9 885.3,80.9 886.1,80.9 886.8,80.9 887.5,80.9 888.3,80.8 889.0,80.8 889.7,80.8 890.5,80.8 891.2,80.8 891.9,80.8 892.7,80.7 893.4,80.7 894.1,80.7 894.9,80.7 895.6,80.7"/>
<polyline stroke="#ff0000" points="528.5,81.4 529.2,81.5 530.0,81.5 530.7,81.5 531.4,81.5 532.2,81.5 532.9,81.6 533.6,81.6 534.4,81.6 535.1,81.6 535.8,81.6 536.6,81.7 537.3,81.7 538.0,81.7 538.8,81.7 539.5,81.8 540.2,81.8 541.0,81.8 541.7,81.8 542.4,81.9 543.2,81.9 543.9,81.9 544.7,81.9 545.4,82.0 546.1,82.0 546.9,82.0 547.6,82.1 548.3,82.1 549.1,82.1 549.8,82.1 550.5,82.2 551.3,82.2 552.0,82.2 552.7,82.3 553.5,82.3 554.2,82.3 554.9,82.4 555.7,82.4 556.4,82.4 557.1,82.5 557.9,82.5 558.6,82.5 559.3,82.6 560.1,82.6 560.8,82.6 561.5,82.7 562.3,82.7 563.0,82.7 563.7,82.8 564.5,82.8 565.2,82.9 565.9,82.9 566.7,82.9 567.4,83.0 568.1,83.0 568.9,83.1 569.6,83.1 570.3,83.1 571.1,83.2 571.8,83.2 572.6,83.3 573.3,83.3 574.0,83.4 574.8,83.4 575.5,83.4 576.2,83.5 577.0,83.5 577.7,83.6 578.4,83.6 579.2,83.7 579.9,83.7 580.6,83.8 581.4,83.8 582.1,83.9 582.8,83.9 583.6,84.0 584.3,84.1 585.0,84.1 585.8,84.2 586.5,84.2 587.2,84.3 588.0,84.3 588.7,84.4 589.4,84.5 590.2,84.5 590.9,84.6 591.6,84.6 592.4,84.7 593.1,84.8 593.8,84.8 594.6,84.9 595.3,85.0 596.0,85.0 596.8,85.1 597.5,85.2 598.2,85.2 599.0,85.3 599.7,85.4 600.5,85.5 601.2,85.5 601.9,85.6 602.7,85.7 603.4,85.8 604.1,85.9 604.9,85.9 605.6,86.0 606.3,86.1 607.1,86.2 607.8,86.3 608.5,86.3 609.3,86.4 610.0,86.5 610.7,86.6 611.5,86.7 612.2,86.8 612.9,86.9 613.7,87.0 614.4,87.1 615.1,87.2 615.9,87.3 616.6,87.4 617.3,87.5 618.1,87.6 618.8,87.7 619.5,87.8 620.3,87.9 621.0,88.0 621.7,88.1 622.5,88.2 623.2,88.3 623.9,88.4 624.7,88.6 625.4,88.7 626.1,88.8 626.9,88.9 627.6,89.0 628.4,89.1 629.1,89.3 629.8,89.4 630.6,89.5 631.3,89.6 632.0,89.8 632.8,89.9 633.5,90.0 634.2,90.2 635.0,90.3 635.7,90.4 636.4,90.6 637.2,90.7 637.9,90.9 638.6,91.0 639.4,91.1 640.1,91.3 640.8,91.4 641.6,91.6 642.3,91.7 643.0,91.9 643.8,92.0 644.5,92.2 645.2,92.4 646.0,92.5 646.7,92.7 647.4,92.8 648.2,93.0 648.9,93.2 649.6,93.3 650.4,93.5 651.1,93.7 651.8,93.8 652.6,94.0 653.3,94.2 654.0,94.3 654.8,94.5 655.5,94.7 656.3,94.9 657.0,95.0 657.7,95.2 658.5,95.4 659.2,95.6 659.9,95.7 660.7,95.9 661.4,96.1 662.1,96.3 662.9,96.5 663.6,96.6 664.3,96.8 665.1,97.0 665.8,97.2 666.5,97.4 667.3,97.6 668.0,97.7 668.7,97.9 669.5,98.1 670.2,98.3 670.9,98.5 671.7,98.7 672.4,98.8 673.1,99.0 673.9,99.2 674.6,99.4 675.3,99.6 676.1,99.7 676.8,99.9 677.5,100.1 678.3,100.3 679.0,100.5 679.7,100.6 680.5,100.8 681.2,101.0 681.9,101.1 682.7,101.3 683.4,101.5 684.2,101.6 684.9,101.8 685.6,101.9 686.4,102.1 687.1,102.2 687.8,102.4 688.6,102.5 689.3,102.7 690.0,102.8 690.8,103.0 691.5,103.1 692.2,103.2 693.0,103.3 693.7,103.5 694.4,103.6 695.2,103.7 695.9,103.8 696.6,103.9 697.4,104.0 698.1,104.1 698.8,104.2 699.6,104.3 700.3,104.4 701.0,104.5 701.8,104.5 702.5,104.6 703.2,104.7 704.0,104.7 704.7,104.8 705.4,104.8 706.2,104.9 706.9,104.9 707.6,105.0 708.4,105.0 709.1,105.0 709.8,105.0 710.6,105.0 711.3,105.1 712.0,105.1 712.8,105.1 713.5,105.0 714.3,105.0 715.0,105.0 715.7,105.0 716.5,105.0 717.2,104.9 717.9,104.9 718.7,104.8 719.4,104.8 720.1,104.7 720.9,104.7 721.6,104.6 722.3,104.5 723.1,104.5 723.8,104.4 724.5,104.3 725.3,104.2 726.0,104.1 726.7,104.0 727.5,103.9 728.2,103.8 728.9,103.7 729.7,103.6 730.4,103.5 731.1,103.3 731.9,103.2 732.6,103.1 733.3,103.0 734.1,102.8 734.8,102.7 735.5,102.5 736.3,102.4 737.0,102.2 737.7,102.1 738.5,101.9 739.2,101.8 739.9,101.6 740.7,101.5 741.4,101.3 742.2,101.1 742.9,101.0 743.6,100.8 744.4,100.6 745.1,100.5 745.8,100.3 746.6,100.1 747.3,99.9 748.0,99.7 748.8,99.6 749.5,99.4 750.2,99.2 751.0,99.0 751.7,98.8 752.4,98.7 753.2,98.5 753.9,98.3 754.6,98.1 755.4,97.9 756.1,97.7 756.8,97.6 757.6,97.4 758.3,97.2 759.0,97.0 759.8,96.8 760.5,96.6 761.2,96.5 762.0,96.3 762.7,96.1 763.4,95.9 764.2,95.7 764.9,95.6 765.6,95.4 766.4,95.2 767.1,95.0 767.8,94.9 768.6,94.7 769.3,94.5 770.1,94.3 770.8,94.2 771.5,94.0 772.3,93.8 773.0,93.7 773.7,93.5 774.5,93.3 775.2,93.2 775.9,93.0 776.7,92.8 777.4,92.7 778.1,92.5 778.9,92.4 779.6,92.2 780.3,92.0 781.1,91.9 781.8,91.7 782.5,91.6 783.3,91.4 784.0,91.3 784.7,91.1 785.5,91.0 786.2,90.9 786.9,90.7 787.7,90.6 788.4,90.4 789.1,90.3 789.9,90.2 790.6,90.0 791.3,89.9 792.1,89.8 792.8,89.6 793.5,89.5 794.3,89.4 795.0,89.3 795.7,89.1 796.5,89.0 797.2,88.9 798.0,88.8 798.7,88.7 799.4,88.6 800.2,88.4 800.9,88.3 801.6,88.2 802.4,88.1 803.1,88.0 803.8,87.9 804.6,87.8 805.3,87.7 806.0,87.6 806.8,87.5 807.5,87.4 808.2,87.3 809.0,87.2 809.7,87.1 810.4,87.0 811.2,86.9 811.9,86.8 812.6,86.7 813.4,86.6 814.1,86.5 814.8,86.4 815.6,86.3 816.3,86.3 817.0,86.2 817.8,86.1 818.5,86.0 819.2,85.9 820.0,85.9 820.7,85.8 821.4,85.7 822.2,85.6 822.9,85.5 823.6,85.5 824.4,85.4 825.1,85.3 825.9,85.2 826.6,85.2 827.3,85.1 828.1,85.0 828.8,85.0 829.5,84.9 830.3,84.8 831.0,84.8 831.7,84.7 832.5,84.6 833.2,84.6 833.9,84.5 834.7,84.5 835.4,84.4 836.1,84.3 836.9,84.3 837.6,84.2 838.3,84.2 839.1,84.1 839.8,84.1 840.5,84.0 841.3,83.9 842.0,83.9 842.7,83.8 843.5,83.8 844.2,83.7 844.9,83.7 845.7,83.6 846.4,83.6 847.1,83.5 847.9,83.5 848.6,83.4 849.3,83.4 850.1,83.4 850.8,83.3 851.5,83.3 852.3,83.2 853.0,83.2 853.8,83.1 854.5,83.1 855.2,83.1 856.0,83.0 856.7,83.0 857.4,82.9 858.2,82.9 858.9,82.9 859.6,82.8 860.4,82.8 861.1,82.7 861.8,82.7 862.6,82.7 863.3,82.6 864.0,82.6 864.8,82.6 865.5,82.5 866.2,82.5 867.0,82.5 867.7,82.4 868.4,82.4 869.2,82.4 869.9,82.3 870.6,82.3 871.4,82.3 872.1,82.2 872.8,82.2 873.6,82.2 874.3,82.1 875.0,82.1 875.8,82.1 876.5,82.1 877.2,82.0 878.0,82.0 878.7,82.0 879.4,81.9 880.2,81.9 880.9,81.9 881.7,81.9 882.4,81.8 883.1,81.8 883.9,81.8 884.6,81.8 885.3,81.7 886.1,81.7 886.8,81.7 887.5,81.7 888.3,81.6 889.0,81.6 889.7,81.6 890.5,81.6 891.2,81.6 891.9,81.5 892.7,81.5 893.4,81.5 894.1,81.5 894.9,81.5 895.6,81.4"/>
<polyline stroke="#00ffff" points="528.5,83.1 529.2,83.1 530.0,83.2 530.7,83.2 531.4,83.2 532.2,83.3 532.9,83.3 533.6,83.3 534.4,83.3 535.1,83.4 535.8,83.4 536.6,83.4 537.3,83.5 538.0,83.5 538.8,83.5 539.5,83.5 540.2,83.6 541.0,83.6 541.7,83.6 542.4,83.7 543.2,83.7 543.9,83.7 544.7,83.8 545.4,83.8 546.1,83.8 546.9,83.9 547.6,83.9 548.3,83.9 549.1,84.0 549.8,84.0 550.5,84.0 551.3,84.1 552.0,84.1 552.7,84.2 553.5,84.2 554.2,84.2 554.9,84.3 555.7,84.3 556.4,84.3 557.1,84.4 557.9,84.4 558.6,84.4 559.3,84.5 560.1,84.5 560.8,84.6 561.5,84.6 562.3,84.6 563.0,84.7 563.7,84.7 564.5,84.8 565.2,84.8 565.9,84.8 566.7,84.9 567.4,84.9 568.1,85.0 568.9,85.0 569.6,85.1 570.3,85.1 571.1,85.1 571.8,85.2 572.6,85.2 573.3,85.3 574.0,85.3 574.8,85.4 575.5,85.4 576.2,85.5 577.0,85.5 577.7,85.5 578.4,85.6 579.2,85.6 579.9,85.7 580.6,85.7 581.4,85.8 582.1,85.8 582.8,85.9 583.6,85.9 584.3,86.0 585.0,86.0 585.8,86.1 586.5,86.1 587.2,86.2 588.0,86.2 588.7,86.3 589.4,86.3 590.2,86.4 590.9,86.4 591.6,86.5 592.4,86.5 593.1,86.6 593.8,86.6 594.6,86.7 595.3,86.7 596.0,86.8 596.8,86.9 597.5,86.9 598.2,87.0 599.0,87.0 599.7,87.1 600.5,87.1 601.2,87.2 601.9,87.2 602.7,87.3 603.4,87.4 604.1,87.4 604.9,87.5 605.6,87.5 606.3,87.6 607.1,87.7 607.8,87.7 608.5,87.8 609.3,87.8 610.0,87.9 610.7,88.0 611.5,88.0 612.2,88.1 612.9,88.1 613.7,88.2 614.4,88.3 615.1,88.3 615.9,88.4 616.6,88.4 617.3,88.5 618.1,88.6 618.8,88.6 619.5,88.7 620.3,88.8 621.0,88.8 621.7,88.9 622.5,88.9 623.2,89.0 623.9,89.1 624.7,89.1 625.4,89.2 626.1,89.3 626.9,89.3 627.6,89.4 628.4,89.5 629.1,89.5 629.8,89.6 630.6,89.7 631.3,89.7 632.0,89.8 632.8,89.9 633.5,89.9 634.2,90.0 635.0,90.1 635.7,90.1 636.4,90.2 637.2,90.3 637.9,90.3 638.6,90.4 639.4,90.5 640.1,90.5 640.8,90.6 641.6,90.7 642.3,90.7 643.0,90.8 643.8,90.9 644.5,90.9 645.2,91.0 646.0,91.0 646.7,91.1 647.4,91.2 648.2,91.2 648.9,91.3 649.6,91.4 650.4,91.4 651.1,91.5 651.8,91.6 652.6,91.6 653.3,91.7 654.0,91.8 654.8,91.8 655.5,91.9 656.3,91.9 657.0,92.0 657.7,92.1 658.5,92.1 659.2,92.2 659.9,92.3 660.7,92.3 661.4,92.4 662.1,92.4 662.9,92.5 663.6,92.6 664.3,92.6 665.1,92.7 665.8,92.7 666.5,92.8 667.3,92.8 668.0,92.9 668.7,93.0 669.5,93.0 670.2,93.1 670.9,93.1 671.7,93.2 672.4,93.2 673.1,93.3 673.9,93.3 674.6,93.4 675.3,93.4 676.1,93.5 676.8,93.5 677.5,93.6 678.3,93.6 679.0,93.7 679.7,93.7 680.5,93.8 681.2,93.8 681.9,93.9 682.7,93.9 683.4,93.9 684.2,94.0 684.9,94.0 685.6,94.1 686.4,94.1 687.1,94.1 687.8,94.2 688.6,94.2 689.3,94.2 690.0,94.3 690.8,94.3 691.5,94.3 692.2,94.4 693.0,94.4 693.7,94.4 694.4,94.4 695.2,94.5 695.9,94.5 696.6,94.5 697.4,94.5 698.1,94.6 698.8,94.6 699.6,94.6 700.3,94.6 701.0,94.6 701.8,94.7 702.5,94.7 703.2,94.7 704.0,94.7 704.7,94.7 705.4,94.7 706.2,94.7 706.9,94.7 707.6,94.8 708.4,94.8 709.1,94.8 709.8,94.8 710.6,94.8 711.3,94.8 712.0,94.8 712.8,94.8 713.5,94.8 714.3,94.8 715.0,94.8 715.7,94.8 716.5,94.8 717.2,94.7 717.9,94.7 718.7,94.7 719.4,94.7 720.1,94.7 720.9,94.7 721.6,94.7 722.3,94.7 723.1,94.6 723.8,94.6 724.5,94.6 725.3,94.6 726.0,94.6 726.7,94.5 727.5,94.5 728.2,94.5 728.9,94.5 729.7,94.4 730.4,94.4 731.1,94.4 731.9,94.4 732.6,94.3 733.3,94.3 734.1,94.3 734.8,94.2 735.5,94.2 736.3,94.2 737.0,94.1 737.7,94.1 738.5,94.1 739.2,94.0 739.9,94.0 740.7,93.9 741.4,93.9 742.2,93.9 742.9,93.8 743.6,93.8 744.4,93.7 745.1,93.7 745.8,93.6 746.6,93.6 747.3,93.5 748.0,93.5 748.8,93.4 749.5,93.4 750.2,93.3 751.0,93.3 751.7,93.2 752.4,93.2 753.2,93.1 753.9,93.1 754.6,93.0 755.4,93.0 756.1,92.9 756.8,92.8 757.6,92.8 758.3,92.7 759.0,92.7 759.8,92.6 760.5,92.6 761.2,92.5 762.0,92.4 762.7,92.4 763.4,92.3 764.2,92.3 764.9,92.2 765.6,92.1 766.4,92.1 767.1,92.0 767.8,91.9 768.6,91.9 769.3,91.8 770.1,91.8 770.8,91.7 771.5,91.6 772.3,91.6 773.0,91.5 773.7,91.4 774.5,91.4 775.2,91.3 775.9,91.2 776.7,91.2 777.4,91.1 778.1,91.0 778.9,91.0 779.6,90.9 780.3,90.9 781.1,90.8 781.8,90.7 782.5,90.7 783.3,90.6 784.0,90.5 784.7,90.5 785.5,90.4 786.2,90.3 786.9,90.3 787.7,90.2 788.4,90.1 789.1,90.1 789.9,90.0 790.6,89.9 791.3,89.9 792.1,89.8 792.8,89.7 793.5,89.7 794.3,89.6 795.0,89.5 795.7,89.5 796.5,89.4 797.2,89.3 798.0,89.3 798.7,89.2 799.4,89.1 800.2,89.1 800.9,89.0 801.6,88.9 802.4,88.9 803.1,88.8 803.8,88.8 804.6,88.7 805.3,88.6 806.0,88.6 806.8,88.5 807.5,88.4 808.2,88.4 809.0,88.3 809.7,88.3 810.4,88.2 811.2,88.1 811.9,88.1 812.6,88.0 813.4,88.0 814.1,87.9 814.8,87.8 815.6,87.8 816.3,87.7 817.0,87.7 817.8,87.6 818.5,87.5 819.2,87.5 820.0,87.4 820.7,87.4 821.4,87.3 822.2,87.2 822.9,87.2 823.6,87.1 824.4,87.1 825.1,87.0 825.9,87.0 826.6,86.9 827.3,86.9 828.1,86.8 828.8,86.7 829.5,86.7 830.3,86.6 831.0,86.6 831.7,86.5 832.5,86.5 833.2,86.4 833.9,86.4 834.7,86.3 835.4,86.3 836.1,86.2 836.9,86.2 837.6,86.1 838.3,86.1 839.1,86.0 839.8,86.0 840.5,85.9 841.3,85.9 842.0,85.8 842.7,85.8 843.5,85.7 844.2,85.7 844.9,85.6 845.7,85.6 846.4,85.5 847.1,85.5 847.9,85.5 848.6,85.4 849.3,85.4 850.1,85.3 850.8,85.3 851.5,85.2 852.3,85.2 853.0,85.1 853.8,85.1 854.5,85.1 855.2,85.0 856.0,85.0 856.7,84.9 857.4,84.9 858.2,84.8 858.9,84.8 859.6,84.8 860.4,84.7 861.1,84.7 861.8,84.6 862.6,84.6 863.3,84.6 864.0,84.5 864.8,84.5 865.5,84.4 866.2,84.4 867.0,84.4 867.7,84.3 868.4,84.3 869.2,84.3 869.9,84.2 870.6,84.2 871.4,84.2 872.1,84.1 872.8,84.1 873.6,84.0 874.3,84.0 875.0,84.0 875.8,83.9 876.5,83.9 877.2,83.9 878.0,83.8 878.7,83.8 879.4,83.8 880.2,83.7 880.9,83.7 881.7,83.7 882.4,83.6 883.1,83.6 883.9,83.6 884.6,83.5 885.3,83.5 886.1,83.5 886.8,83.5 887.5,83.4 888.3,83.4 889.0,83.4 889.7,83.3 890.5,83.3 891.2,83.3 891.9,83.3 892.7,83.2 893.4,83.2 894.1,83.2 894.9,83.1 895.6,83.1"/>
</g>
<g font-size="27.4px">
<text x="564.91" y="455.8" text-anchor="middle">-2</text>
<text x="638.33" y="455.8" text-anchor="middle">-1</text>
<text x="713.05" y="455.8" text-anchor="middle">0</text>
<text x="786.47" y="455.8" text-anchor="middle">1</text>
<text x="859.89" y="455.8" text-anchor="middle">2</text>
<text x="516.50" y="428.20" text-anchor="end">-10</text>
<text x="516.50" y="366.50" text-anchor="end">-8</text>
<text x="516.50" y="304.80" text-anchor="end">-6</text>
<text x="516.50" y="243.10" text-anchor="end">-4</text>
<text x="516.50" y="181.40" text-anchor="end">-2</text>
<text x="516.50" y="119.70" text-anchor="end">0</text>
<text x="516.50" y="58.00" text-anchor="end">2</text>
</g>
<g font-size="30.1px">
<text x="713.05" y="491.5" text-anchor="middle">Displacement</text>
<text transform="translate(467.30 234.40) rotate(-90)" text-anchor="middle">Stiffness</text>
</g>
<rect x="987.50" y="48.50" width="367.10" height="370.20" fill="none" stroke="#000" stroke-width="2.2"/>
<path d="M1024.21 418.70v-4.7M1024.21 48.50v4.7M1097.63 418.70v-4.7M1097.63 48.50v4.7M1171.05 418.70v-4.7M1171.05 48.50v4.7M1244.47 418.70v-4.7M1244.47 48.50v4.7M1317.89 418.70v-4.7M1317.89 48.50v4.7M987.50 359.47h4.7M1354.60 359.47h-4.7M987.50 300.24h4.7M1354.60 300.24h-4.7M987.50 241.00h4.7M1354.60 241.00h-4.7M987.50 181.77h4.7M1354.60 181.77h-4.7M987.50 122.54h4.7M1354.60 122.54h-4.7M987.50 63.31h4.7M1354.60 63.31h-4.7" stroke="#000" stroke-width="2.2" fill="none"/>
<clipPath id="c2"><rect x="986.00" y="47.00" width="370.10" height="373.20"/></clipPath>
<g clip-path="url(#c2)" fill="none" stroke-width="2.8" stroke-linejoin="round">
<polyline stroke="#000000" points="987.5,48.5 988.2,51.5 989.0,54.4 989.7,57.3 990.4,60.3 991.2,63.2 991.9,66.1 992.6,68.9 993.4,71.8 994.1,74.7 994.8,77.5 995.6,80.4 996.3,83.2 997.0,86.0 997.8,88.8 998.5,91.6 999.2,94.4 1000.0,97.1 1000.7,99.9 1001.4,102.6 1002.2,105.4 1002.9,108.1 1003.7,110.8 1004.4,113.5 1005.1,116.2 1005.9,118.8 1006.6,121.5 1007.3,124.1 1008.1,126.8 1008.8,129.4 1009.5,132.0 1010.3,134.6 1011.0,137.2 1011.7,139.8 1012.5,142.3 1013.2,144.9 1013.9,147.4 1014.7,150.0 1015.4,152.5 1016.1,155.0 1016.9,157.5 1017.6,160.0 1018.3,162.4 1019.1,164.9 1019.8,167.3 1020.5,169.8 1021.3,172.2 1022.0,174.6 1022.7,177.0 1023.5,179.4 1024.2,181.8 1024.9,184.1 1025.7,186.5 1026.4,188.8 1027.1,191.2 1027.9,193.5 1028.6,195.8 1029.3,198.1 1030.1,200.3 1030.8,202.6 1031.6,204.9 1032.3,207.1 1033.0,209.4 1033.8,211.6 1034.5,213.8 1035.2,216.0 1036.0,218.2 1036.7,220.3 1037.4,222.5 1038.2,224.7 1038.9,226.8 1039.6,228.9 1040.4,231.0 1041.1,233.1 1041.8,235.2 1042.6,237.3 1043.3,239.4 1044.0,241.4 1044.8,243.5 1045.5,245.5 1046.2,247.5 1047.0,249.5 1047.7,251.5 1048.4,253.5 1049.2,255.5 1049.9,257.4 1050.6,259.4 1051.4,261.3 1052.1,263.3 1052.8,265.2 1053.6,267.1 1054.3,269.0 1055.0,270.8 1055.8,272.7 1056.5,274.6 1057.2,276.4 1058.0,278.2 1058.7,280.0 1059.5,281.9 1060.2,283.6 1060.9,285.4 1061.7,287.2 1062.4,289.0 1063.1,290.7 1063.9,292.4 1064.6,294.2 1065.3,295.9 1066.1,297.6 1066.8,299.3 1067.5,300.9 1068.3,302.6 1069.0,304.3 1069.7,305.9 1070.5,307.5 1071.2,309.1 1071.9,310.7 1072.7,312.3 1073.4,313.9 1074.1,315.5 1074.9,317.1 1075.6,318.6 1076.3,320.1 1077.1,321.7 1077.8,323.2 1078.5,324.7 1079.3,326.1 1080.0,327.6 1080.7,329.1 1081.5,330.5 1082.2,332.0 1082.9,333.4 1083.7,334.8 1084.4,336.2 1085.1,337.6 1085.9,339.0 1086.6,340.4 1087.4,341.7 1088.1,343.1 1088.8,344.4 1089.6,345.7 1090.3,347.0 1091.0,348.3 1091.8,349.6 1092.5,350.9 1093.2,352.1 1094.0,353.4 1094.7,354.6 1095.4,355.9 1096.2,357.1 1096.9,358.3 1097.6,359.5 1098.4,360.6 1099.1,361.8 1099.8,363.0 1100.6,364.1 1101.3,365.2 1102.0,366.4 1102.8,367.5 1103.5,368.6 1104.2,369.6 1105.0,370.7 1105.7,371.8 1106.4,372.8 1107.2,373.9 1107.9,374.9 1108.6,375.9 1109.4,376.9 1110.1,377.9 1110.8,378.9 1111.6,379.8 1112.3,380.8 1113.0,381.7 1113.8,382.7 1114.5,383.6 1115.3,384.5 1116.0,385.4 1116.7,386.3 1117.5,387.1 1118.2,388.0 1118.9,388.8 1119.7,389.7 1120.4,390.5 1121.1,391.3 1121.9,392.1 1122.6,392.9 1123.3,393.7 1124.1,394.4 1124.8,395.2 1125.5,395.9 1126.3,396.7 1127.0,397.4 1127.7,398.1 1128.5,398.8 1129.2,399.5 1129.9,400.1 1130.7,400.8 1131.4,401.4 1132.1,402.1 1132.9,402.7 1133.6,403.3 1134.3,403.9 1135.1,404.5 1135.8,405.1 1136.5,405.6 1137.3,406.2 1138.0,406.7 1138.7,407.2 1139.5,407.7 1140.2,408.3 1140.9,408.7 1141.7,409.2 1142.4,409.7 1143.2,410.1 1143.9,410.6 1144.6,411.0 1145.4,411.4 1146.1,411.9 1146.8,412.2 1147.6,412.6 1148.3,413.0 1149.0,413.4 1149.8,413.7 1150.5,414.1 1151.2,414.4 1152.0,414.7 1152.7,415.0 1153.4,415.3 1154.2,415.6 1154.9,415.8 1155.6,416.1 1156.4,416.3 1157.1,416.6 1157.8,416.8 1158.6,417.0 1159.3,417.2 1160.0,417.4 1160.8,417.5 1161.5,417.7 1162.2,417.8 1163.0,418.0 1163.7,418.1 1164.4,418.2 1165.2,418.3 1165.9,418.4 1166.6,418.5 1167.4,418.6 1168.1,418.6 1168.8,418.6 1169.6,418.7 1170.3,418.7 1171.0,418.7 1171.8,418.7 1172.5,418.7 1173.3,418.6 1174.0,418.6 1174.7,418.6 1175.5,418.5 1176.2,418.4 1176.9,418.3 1177.7,418.2 1178.4,418.1 1179.1,418.0 1179.9,417.8 1180.6,417.7 1181.3,417.5 1182.1,417.4 1182.8,417.2 1183.5,417.0 1184.3,416.8 1185.0,416.6 1185.7,416.3 1186.5,416.1 1187.2,415.8 1187.9,415.6 1188.7,415.3 1189.4,415.0 1190.1,414.7 1190.9,414.4 1191.6,414.1 1192.3,413.7 1193.1,413.4 1193.8,413.0 1194.5,412.6 1195.3,412.2 1196.0,411.9 1196.7,411.4 1197.5,411.0 1198.2,410.6 1198.9,410.1 1199.7,409.7 1200.4,409.2 1201.2,408.7 1201.9,408.3 1202.6,407.7 1203.4,407.2 1204.1,406.7 1204.8,406.2 1205.6,405.6 1206.3,405.1 1207.0,404.5 1207.8,403.9 1208.5,403.3 1209.2,402.7 1210.0,402.1 1210.7,401.4 1211.4,400.8 1212.2,400.1 1212.9,399.5 1213.6,398.8 1214.4,398.1 1215.1,397.4 1215.8,396.7 1216.6,395.9 1217.3,395.2 1218.0,394.4 1218.8,393.7 1219.5,392.9 1220.2,392.1 1221.0,391.3 1221.7,390.5 1222.4,389.7 1223.2,388.8 1223.9,388.0 1224.6,387.1 1225.4,386.3 1226.1,385.4 1226.8,384.5 1227.6,383.6 1228.3,382.7 1229.1,381.7 1229.8,380.8 1230.5,379.8 1231.3,378.9 1232.0,377.9 1232.7,376.9 1233.5,375.9 1234.2,374.9 1234.9,373.9 1235.7,372.8 1236.4,371.8 1237.1,370.7 1237.9,369.6 1238.6,368.6 1239.3,367.5 1240.1,366.4 1240.8,365.2 1241.5,364.1 1242.3,363.0 1243.0,361.8 1243.7,360.6 1244.5,359.5 1245.2,358.3 1245.9,357.1 1246.7,355.9 1247.4,354.6 1248.1,353.4 1248.9,352.1 1249.6,350.9 1250.3,349.6 1251.1,348.3 1251.8,347.0 1252.5,345.7 1253.3,344.4 1254.0,343.1 1254.7,341.7 1255.5,340.4 1256.2,339.0 1257.0,337.6 1257.7,336.2 1258.4,334.8 1259.2,333.4 1259.9,332.0 1260.6,330.5 1261.4,329.1 1262.1,327.6 1262.8,326.1 1263.6,324.7 1264.3,323.2 1265.0,321.7 1265.8,320.1 1266.5,318.6 1267.2,317.1 1268.0,315.5 1268.7,313.9 1269.4,312.3 1270.2,310.7 1270.9,309.1 1271.6,307.5 1272.4,305.9 1273.1,304.3 1273.8,302.6 1274.6,300.9 1275.3,299.3 1276.0,297.6 1276.8,295.9 1277.5,294.2 1278.2,292.4 1279.0,290.7 1279.7,289.0 1280.4,287.2 1281.2,285.4 1281.9,283.6 1282.6,281.9 1283.4,280.0 1284.1,278.2 1284.9,276.4 1285.6,274.6 1286.3,272.7 1287.1,270.8 1287.8,269.0 1288.5,267.1 1289.3,265.2 1290.0,263.3 1290.7,261.3 1291.5,259.4 1292.2,257.4 1292.9,255.5 1293.7,253.5 1294.4,251.5 1295.1,249.5 1295.9,247.5 1296.6,245.5 1297.3,243.5 1298.1,241.4 1298.8,239.4 1299.5,237.3 1300.3,235.2 1301.0,233.1 1301.7,231.0 1302.5,228.9 1303.2,226.8 1303.9,224.7 1304.7,222.5 1305.4,220.3 1306.1,218.2 1306.9,216.0 1307.6,213.8 1308.3,211.6 1309.1,209.4 1309.8,207.1 1310.5,204.9 1311.3,202.6 1312.0,200.3 1312.8,198.1 1313.5,195.8 1314.2,193.5 1315.0,191.2 1315.7,188.8 1316.4,186.5 1317.2,184.1 1317.9,181.8 1318.6,179.4 1319.4,177.0 1320.1,174.6 1320.8,172.2 1321.6,169.8 1322.3,167.3 1323.0,164.9 1323.8,162.4 1324.5,160.0 1325.2,157.5 1326.0,155.0 1326.7,152.5 1327.4,150.0 1328.2,147.4 1328.9,144.9 1329.6,142.3 1330.4,139.8 1331.1,137.2 1331.8,134.6 1332.6,132.0 1333.3,129.4 1334.0,126.8 1334.8,124.1 1335.5,121.5 1336.2,118.8 1337.0,116.2 1337.7,113.5 1338.4,110.8 1339.2,108.1 1339.9,105.4 1340.7,102.6 1341.4,99.9 1342.1,97.1 1342.9,94.4 1343.6,91.6 1344.3,88.8 1345.1,86.0 1345.8,83.2 1346.5,80.4 1347.3,77.5 1348.0,74.7 1348.7,71.8 1349.5,68.9 1350.2,66.1 1350.9,63.2 1351.7,60.3 1352.4,57.3 1353.1,54.4 1353.9,51.5 1354.6,48.5"/>
<polyline stroke="#0000ff" points="987.5,285.1 988.2,286.8 989.0,288.6 989.7,290.4 990.4,292.1 991.2,293.8 991.9,295.5 992.6,297.2 993.4,298.9 994.1,300.6 994.8,302.3 995.6,303.9 996.3,305.6 997.0,307.2 997.8,308.8 998.5,310.4 999.2,312.0 1000.0,313.6 1000.7,315.2 1001.4,316.7 1002.2,318.3 1002.9,319.8 1003.7,321.3 1004.4,322.8 1005.1,324.3 1005.9,325.8 1006.6,327.3 1007.3,328.8 1008.1,330.2 1008.8,331.7 1009.5,333.1 1010.3,334.5 1011.0,335.9 1011.7,337.3 1012.5,338.7 1013.2,340.0 1013.9,341.4 1014.7,342.8 1015.4,344.1 1016.1,345.4 1016.9,346.7 1017.6,348.0 1018.3,349.3 1019.1,350.6 1019.8,351.8 1020.5,353.1 1021.3,354.3 1022.0,355.6 1022.7,356.8 1023.5,358.0 1024.2,359.2 1024.9,360.4 1025.7,361.5 1026.4,362.7 1027.1,363.8 1027.9,365.0 1028.6,366.1 1029.3,367.2 1030.1,368.3 1030.8,369.4 1031.6,370.4 1032.3,371.5 1033.0,372.6 1033.8,373.6 1034.5,374.6 1035.2,375.6 1036.0,376.6 1036.7,377.6 1037.4,378.6 1038.2,379.6 1038.9,380.5 1039.6,381.5 1040.4,382.4 1041.1,383.3 1041.8,384.2 1042.6,385.1 1043.3,386.0 1044.0,386.9 1044.8,387.7 1045.5,388.6 1046.2,389.4 1047.0,390.3 1047.7,391.1 1048.4,391.9 1049.2,392.7 1049.9,393.4 1050.6,394.2 1051.4,395.0 1052.1,395.7 1052.8,396.4 1053.6,397.2 1054.3,397.9 1055.0,398.6 1055.8,399.2 1056.5,399.9 1057.2,400.6 1058.0,401.2 1058.7,401.9 1059.5,402.5 1060.2,403.1 1060.9,403.7 1061.7,404.3 1062.4,404.9 1063.1,405.4 1063.9,406.0 1064.6,406.5 1065.3,407.1 1066.1,407.6 1066.8,408.1 1067.5,408.6 1068.3,409.1 1069.0,409.5 1069.7,410.0 1070.5,410.4 1071.2,410.9 1071.9,411.3 1072.7,411.7 1073.4,412.1 1074.1,412.5 1074.9,412.9 1075.6,413.2 1076.3,413.6 1077.1,413.9 1077.8,414.3 1078.5,414.6 1079.3,414.9 1080.0,415.2 1080.7,415.5 1081.5,415.7 1082.2,416.0 1082.9,416.2 1083.7,416.5 1084.4,416.7 1085.1,416.9 1085.9,417.1 1086.6,417.3 1087.4,417.5 1088.1,417.6 1088.8,417.8 1089.6,417.9 1090.3,418.1 1091.0,418.2 1091.8,418.3 1092.5,418.4 1093.2,418.5 1094.0,418.5 1094.7,418.6 1095.4,418.6 1096.2,418.7 1096.9,418.7 1097.6,418.7 1098.4,418.7 1099.1,418.7 1099.8,418.7 1100.6,418.6 1101.3,418.6 1102.0,418.5 1102.8,418.5 1103.5,418.4 1104.2,418.3 1105.0,418.2 1105.7,418.1 1106.4,417.9 1107.2,417.8 1107.9,417.6 1108.6,417.5 1109.4,417.3 1110.1,417.1 1110.8,416.9 1111.6,416.7 1112.3,416.5 1113.0,416.2 1113.8,416.0 1114.5,415.7 1115.3,415.5 1116.0,415.2 1116.7,414.9 1117.5,414.6 1118.2,414.3 1118.9,414.0 1119.7,413.6 1120.4,413.3 1121.1,412.9 1121.9,412.5 1122.6,412.2 1123.3,411.8 1124.1,411.4 1124.8,410.9 1125.5,410.5 1126.3,410.1 1127.0,409.6 1127.7,409.1 1128.5,408.7 1129.2,408.2 1129.9,407.7 1130.7,407.2 1131.4,406.7 1132.1,406.1 1132.9,405.6 1133.6,405.0 1134.3,404.5 1135.1,403.9 1135.8,403.3 1136.5,402.7 1137.3,402.1 1138.0,401.5 1138.7,400.9 1139.5,400.2 1140.2,399.6 1140.9,398.9 1141.7,398.2 1142.4,397.6 1143.2,396.9 1143.9,396.2 1144.6,395.5 1145.4,394.7 1146.1,394.0 1146.8,393.3 1147.6,392.5 1148.3,391.8 1149.0,391.0 1149.8,390.2 1150.5,389.5 1151.2,388.7 1152.0,387.9 1152.7,387.1 1153.4,386.3 1154.2,385.5 1154.9,384.6 1155.6,383.8 1156.4,383.0 1157.1,382.2 1157.8,381.3 1158.6,380.5 1159.3,379.7 1160.0,378.9 1160.8,378.1 1161.5,377.3 1162.2,376.5 1163.0,375.8 1163.7,375.0 1164.4,374.3 1165.2,373.7 1165.9,373.0 1166.6,372.5 1167.4,372.0 1168.1,371.5 1168.8,371.2 1169.6,370.9 1170.3,370.8 1171.0,370.7 1171.8,370.8 1172.5,370.9 1173.3,371.2 1174.0,371.5 1174.7,372.0 1175.5,372.5 1176.2,373.0 1176.9,373.7 1177.7,374.3 1178.4,375.0 1179.1,375.8 1179.9,376.5 1180.6,377.3 1181.3,378.1 1182.1,378.9 1182.8,379.7 1183.5,380.5 1184.3,381.3 1185.0,382.2 1185.7,383.0 1186.5,383.8 1187.2,384.6 1187.9,385.5 1188.7,386.3 1189.4,387.1 1190.1,387.9 1190.9,388.7 1191.6,389.5 1192.3,390.2 1193.1,391.0 1193.8,391.8 1194.5,392.5 1195.3,393.3 1196.0,394.0 1196.7,394.7 1197.5,395.5 1198.2,396.2 1198.9,396.9 1199.7,397.6 1200.4,398.2 1201.2,398.9 1201.9,399.6 1202.6,400.2 1203.4,400.9 1204.1,401.5 1204.8,402.1 1205.6,402.7 1206.3,403.3 1207.0,403.9 1207.8,404.5 1208.5,405.0 1209.2,405.6 1210.0,406.1 1210.7,406.7 1211.4,407.2 1212.2,407.7 1212.9,408.2 1213.6,408.7 1214.4,409.1 1215.1,409.6 1215.8,410.1 1216.6,410.5 1217.3,410.9 1218.0,411.4 1218.8,411.8 1219.5,412.2 1220.2,412.5 1221.0,412.9 1221.7,413.3 1222.4,413.6 1223.2,414.0 1223.9,414.3 1224.6,414.6 1225.4,414.9 1226.1,415.2 1226.8,415.5 1227.6,415.7 1228.3,416.0 1229.1,416.2 1229.8,416.5 1230.5,416.7 1231.3,416.9 1232.0,417.1 1232.7,417.3 1233.5,417.5 1234.2,417.6 1234.9,417.8 1235.7,417.9 1236.4,418.1 1237.1,418.2 1237.9,418.3 1238.6,418.4 1239.3,418.5 1240.1,418.5 1240.8,418.6 1241.5,418.6 1242.3,418.7 1243.0,418.7 1243.7,418.7 1244.5,418.7 1245.2,418.7 1245.9,418.7 1246.7,418.6 1247.4,418.6 1248.1,418.5 1248.9,418.5 1249.6,418.4 1250.3,418.3 1251.1,418.2 1251.8,418.1 1252.5,417.9 1253.3,417.8 1254.0,417.6 1254.7,417.5 1255.5,417.3 1256.2,417.1 1257.0,416.9 1257.7,416.7 1258.4,416.5 1259.2,416.2 1259.9,416.0 1260.6,415.7 1261.4,415.5 1262.1,415.2 1262.8,414.9 1263.6,414.6 1264.3,414.3 1265.0,413.9 1265.8,413.6 1266.5,413.2 1267.2,412.9 1268.0,412.5 1268.7,412.1 1269.4,411.7 1270.2,411.3 1270.9,410.9 1271.6,410.4 1272.4,410.0 1273.1,409.5 1273.8,409.1 1274.6,408.6 1275.3,408.1 1276.0,407.6 1276.8,407.1 1277.5,406.5 1278.2,406.0 1279.0,405.4 1279.7,404.9 1280.4,404.3 1281.2,403.7 1281.9,403.1 1282.6,402.5 1283.4,401.9 1284.1,401.2 1284.9,400.6 1285.6,399.9 1286.3,399.2 1287.1,398.6 1287.8,397.9 1288.5,397.2 1289.3,396.4 1290.0,395.7 1290.7,395.0 1291.5,394.2 1292.2,393.4 1292.9,392.7 1293.7,391.9 1294.4,391.1 1295.1,390.3 1295.9,389.4 1296.6,388.6 1297.3,387.7 1298.1,386.9 1298.8,386.0 1299.5,385.1 1300.3,384.2 1301.0,383.3 1301.7,382.4 1302.5,381.5 1303.2,380.5 1303.9,379.6 1304.7,378.6 1305.4,377.6 1306.1,376.6 1306.9,375.6 1307.6,374.6 1308.3,373.6 1309.1,372.6 1309.8,371.5 1310.5,370.4 1311.3,369.4 1312.0,368.3 1312.8,367.2 1313.5,366.1 1314.2,365.0 1315.0,363.8 1315.7,362.7 1316.4,361.5 1317.2,360.4 1317.9,359.2 1318.6,358.0 1319.4,356.8 1320.1,355.6 1320.8,354.3 1321.6,353.1 1322.3,351.8 1323.0,350.6 1323.8,349.3 1324.5,348.0 1325.2,346.7 1326.0,345.4 1326.7,344.1 1327.4,342.8 1328.2,341.4 1328.9,340.0 1329.6,338.7 1330.4,337.3 1331.1,335.9 1331.8,334.5 1332.6,333.1 1333.3,331.7 1334.0,330.2 1334.8,328.8 1335.5,327.3 1336.2,325.8 1337.0,324.3 1337.7,322.8 1338.4,321.3 1339.2,319.8 1339.9,318.3 1340.7,316.7 1341.4,315.2 1342.1,313.6 1342.9,312.0 1343.6,310.4 1344.3,308.8 1345.1,307.2 1345.8,305.6 1346.5,303.9 1347.3,302.3 1348.0,300.6 1348.7,298.9 1349.5,297.2 1350.2,295.5 1350.9,293.8 1351.7,292.1 1352.4,290.4 1353.1,288.6 1353.9,286.8 1354.6,285.1"/>
<polyline stroke="#ff00ff" points="987.5,276.5 988.2,278.3 989.0,280.1 989.7,281.8 990.4,283.6 991.2,285.3 991.9,287.1 992.6,288.8 993.4,290.5 994.1,292.2 994.8,293.9 995.6,295.6 996.3,297.2 997.0,298.9 997.8,300.5 998.5,302.2 999.2,303.8 1000.0,305.4 1000.7,307.0 1001.4,308.6 1002.2,310.2 1002.9,311.7 1003.7,313.3 1004.4,314.8 1005.1,316.3 1005.9,317.8 1006.6,319.3 1007.3,320.8 1008.1,322.3 1008.8,323.8 1009.5,325.2 1010.3,326.7 1011.0,328.1 1011.7,329.5 1012.5,331.0 1013.2,332.4 1013.9,333.7 1014.7,335.1 1015.4,336.5 1016.1,337.8 1016.9,339.2 1017.6,340.5 1018.3,341.8 1019.1,343.1 1019.8,344.4 1020.5,345.7 1021.3,347.0 1022.0,348.2 1022.7,349.5 1023.5,350.7 1024.2,352.0 1024.9,353.2 1025.7,354.4 1026.4,355.6 1027.1,356.7 1027.9,357.9 1028.6,359.1 1029.3,360.2 1030.1,361.3 1030.8,362.5 1031.6,363.6 1032.3,364.7 1033.0,365.8 1033.8,366.8 1034.5,367.9 1035.2,369.0 1036.0,370.0 1036.7,371.0 1037.4,372.1 1038.2,373.1 1038.9,374.1 1039.6,375.0 1040.4,376.0 1041.1,377.0 1041.8,377.9 1042.6,378.9 1043.3,379.8 1044.0,380.7 1044.8,381.6 1045.5,382.5 1046.2,383.4 1047.0,384.3 1047.7,385.1 1048.4,386.0 1049.2,386.8 1049.9,387.6 1050.6,388.5 1051.4,389.3 1052.1,390.1 1052.8,390.8 1053.6,391.6 1054.3,392.4 1055.0,393.1 1055.8,393.9 1056.5,394.6 1057.2,395.3 1058.0,396.0 1058.7,396.7 1059.5,397.4 1060.2,398.0 1060.9,398.7 1061.7,399.3 1062.4,400.0 1063.1,400.6 1063.9,401.2 1064.6,401.8 1065.3,402.4 1066.1,403.0 1066.8,403.6 1067.5,404.1 1068.3,404.7 1069.0,405.2 1069.7,405.7 1070.5,406.3 1071.2,406.8 1071.9,407.3 1072.7,407.7 1073.4,408.2 1074.1,408.7 1074.9,409.1 1075.6,409.6 1076.3,410.0 1077.1,410.4 1077.8,410.8 1078.5,411.2 1079.3,411.6 1080.0,412.0 1080.7,412.3 1081.5,412.7 1082.2,413.0 1082.9,413.4 1083.7,413.7 1084.4,414.0 1085.1,414.3 1085.9,414.6 1086.6,414.9 1087.4,415.1 1088.1,415.4 1088.8,415.7 1089.6,415.9 1090.3,416.1 1091.0,416.3 1091.8,416.6 1092.5,416.8 1093.2,416.9 1094.0,417.1 1094.7,417.3 1095.4,417.5 1096.2,417.6 1096.9,417.7 1097.6,417.9 1098.4,418.0 1099.1,418.1 1099.8,418.2 1100.6,418.3 1101.3,418.4 1102.0,418.5 1102.8,418.5 1103.5,418.6 1104.2,418.6 1105.0,418.6 1105.7,418.7 1106.4,418.7 1107.2,418.7 1107.9,418.7 1108.6,418.7 1109.4,418.7 1110.1,418.6 1110.8,418.6 1111.6,418.6 1112.3,418.5 1113.0,418.4 1113.8,418.4 1114.5,418.3 1115.3,418.2 1116.0,418.1 1116.7,418.0 1117.5,417.9 1118.2,417.8 1118.9,417.7 1119.7,417.5 1120.4,417.4 1121.1,417.3 1121.9,417.1 1122.6,416.9 1123.3,416.8 1124.1,416.6 1124.8,416.4 1125.5,416.2 1126.3,416.1 1127.0,415.9 1127.7,415.7 1128.5,415.5 1129.2,415.2 1129.9,415.0 1130.7,414.8 1131.4,414.6 1132.1,414.3 1132.9,414.1 1133.6,413.9 1134.3,413.6 1135.1,413.4 1135.8,413.1 1136.5,412.9 1137.3,412.6 1138.0,412.4 1138.7,412.1 1139.5,411.8 1140.2,411.6 1140.9,411.3 1141.7,411.0 1142.4,410.8 1143.2,410.5 1143.9,410.2 1144.6,410.0 1145.4,409.7 1146.1,409.4 1146.8,409.2 1147.6,408.9 1148.3,408.7 1149.0,408.4 1149.8,408.2 1150.5,407.9 1151.2,407.7 1152.0,407.4 1152.7,407.2 1153.4,407.0 1154.2,406.7 1154.9,406.5 1155.6,406.3 1156.4,406.1 1157.1,405.9 1157.8,405.7 1158.6,405.5 1159.3,405.3 1160.0,405.2 1160.8,405.0 1161.5,404.9 1162.2,404.7 1163.0,404.6 1163.7,404.5 1164.4,404.4 1165.2,404.3 1165.9,404.2 1166.6,404.1 1167.4,404.0 1168.1,404.0 1168.8,403.9 1169.6,403.9 1170.3,403.9 1171.0,403.9 1171.8,403.9 1172.5,403.9 1173.3,403.9 1174.0,404.0 1174.7,404.0 1175.5,404.1 1176.2,404.2 1176.9,404.3 1177.7,404.4 1178.4,404.5 1179.1,404.6 1179.9,404.7 1180.6,404.9 1181.3,405.0 1182.1,405.2 1182.8,405.3 1183.5,405.5 1184.3,405.7 1185.0,405.9 1185.7,406.1 1186.5,406.3 1187.2,406.5 1187.9,406.7 1188.7,407.0 1189.4,407.2 1190.1,407.4 1190.9,407.7 1191.6,407.9 1192.3,408.2 1193.1,408.4 1193.8,408.7 1194.5,408.9 1195.3,409.2 1196.0,409.4 1196.7,409.7 1197.5,410.0 1198.2,410.2 1198.9,410.5 1199.7,410.8 1200.4,411.0 1201.2,411.3 1201.9,411.6 1202.6,411.8 1203.4,412.1 1204.1,412.4 1204.8,412.6 1205.6,412.9 1206.3,413.1 1207.0,413.4 1207.8,413.6 1208.5,413.9 1209.2,414.1 1210.0,414.3 1210.7,414.6 1211.4,414.8 1212.2,415.0 1212.9,415.2 1213.6,415.5 1214.4,415.7 1215.1,415.9 1215.8,416.1 1216.6,416.2 1217.3,416.4 1218.0,416.6 1218.8,416.8 1219.5,416.9 1220.2,417.1 1221.0,417.3 1221.7,417.4 1222.4,417.5 1223.2,417.7 1223.9,417.8 1224.6,417.9 1225.4,418.0 1226.1,418.1 1226.8,418.2 1227.6,418.3 1228.3,418.4 1229.1,418.4 1229.8,418.5 1230.5,418.6 1231.3,418.6 1232.0,418.6 1232.7,418.7 1233.5,418.7 1234.2,418.7 1234.9,418.7 1235.7,418.7 1236.4,418.7 1237.1,418.6 1237.9,418.6 1238.6,418.6 1239.3,418.5 1240.1,418.5 1240.8,418.4 1241.5,418.3 1242.3,418.2 1243.0,418.1 1243.7,418.0 1244.5,417.9 1245.2,417.7 1245.9,417.6 1246.7,417.5 1247.4,417.3 1248.1,417.1 1248.9,416.9 1249.6,416.8 1250.3,416.6 1251.1,416.3 1251.8,416.1 1252.5,415.9 1253.3,415.7 1254.0,415.4 1254.7,415.1 1255.5,414.9 1256.2,414.6 1257.0,414.3 1257.7,414.0 1258.4,413.7 1259.2,413.4 1259.9,413.0 1260.6,412.7 1261.4,412.3 1262.1,412.0 1262.8,411.6 1263.6,411.2 1264.3,410.8 1265.0,410.4 1265.8,410.0 1266.5,409.6 1267.2,409.1 1268.0,408.7 1268.7,408.2 1269.4,407.7 1270.2,407.3 1270.9,406.8 1271.6,406.3 1272.4,405.7 1273.1,405.2 1273.8,404.7 1274.6,404.1 1275.3,403.6 1276.0,403.0 1276.8,402.4 1277.5,401.8 1278.2,401.2 1279.0,400.6 1279.7,400.0 1280.4,399.3 1281.2,398.7 1281.9,398.0 1282.6,397.4 1283.4,396.7 1284.1,396.0 1284.9,395.3 1285.6,394.6 1286.3,393.9 1287.1,393.1 1287.8,392.4 1288.5,391.6 1289.3,390.8 1290.0,390.1 1290.7,389.3 1291.5,388.5 1292.2,387.6 1292.9,386.8 1293.7,386.0 1294.4,385.1 1295.1,384.3 1295.9,383.4 1296.6,382.5 1297.3,381.6 1298.1,380.7 1298.8,379.8 1299.5,378.9 1300.3,377.9 1301.0,377.0 1301.7,376.0 1302.5,375.0 1303.2,374.1 1303.9,373.1 1304.7,372.1 1305.4,371.0 1306.1,370.0 1306.9,369.0 1307.6,367.9 1308.3,366.8 1309.1,365.8 1309.8,364.7 1310.5,363.6 1311.3,362.5 1312.0,361.3 1312.8,360.2 1313.5,359.1 1314.2,357.9 1315.0,356.7 1315.7,355.6 1316.4,354.4 1317.2,353.2 1317.9,352.0 1318.6,350.7 1319.4,349.5 1320.1,348.2 1320.8,347.0 1321.6,345.7 1322.3,344.4 1323.0,343.1 1323.8,341.8 1324.5,340.5 1325.2,339.2 1326.0,337.8 1326.7,336.5 1327.4,335.1 1328.2,333.7 1328.9,332.4 1329.6,331.0 1330.4,329.5 1331.1,328.1 1331.8,326.7 1332.6,325.2 1333.3,323.8 1334.0,322.3 1334.8,320.8 1335.5,319.3 1336.2,317.8 1337.0,316.3 1337.7,314.8 1338.4,313.3 1339.2,311.7 1339.9,310.2 1340.7,308.6 1341.4,307.0 1342.1,305.4 1342.9,303.8 1343.6,302.2 1344.3,300.5 1345.1,298.9 1345.8,297.2 1346.5,295.6 1347.3,293.9 1348.0,292.2 1348.7,290.5 1349.5,288.8 1350.2,287.1 1350.9,285.3 1351.7,283.6 1352.4,281.8 1353.1,280.1 1353.9,278.3 1354.6,276.5"/>
<polyline stroke="#00ff00" points="987.5,256.1 988.2,257.9 989.0,259.7 989.7,261.5 990.4,263.4 991.2,265.2 991.9,266.9 992.6,268.7 993.4,270.5 994.1,272.2 994.8,274.0 995.6,275.7 996.3,277.4 997.0,279.1 997.8,280.8 998.5,282.5 999.2,284.2 1000.0,285.8 1000.7,287.5 1001.4,289.1 1002.2,290.7 1002.9,292.4 1003.7,294.0 1004.4,295.6 1005.1,297.1 1005.9,298.7 1006.6,300.3 1007.3,301.8 1008.1,303.4 1008.8,304.9 1009.5,306.4 1010.3,307.9 1011.0,309.4 1011.7,310.9 1012.5,312.3 1013.2,313.8 1013.9,315.3 1014.7,316.7 1015.4,318.1 1016.1,319.5 1016.9,320.9 1017.6,322.3 1018.3,323.7 1019.1,325.1 1019.8,326.4 1020.5,327.8 1021.3,329.1 1022.0,330.5 1022.7,331.8 1023.5,333.1 1024.2,334.4 1024.9,335.7 1025.7,336.9 1026.4,338.2 1027.1,339.4 1027.9,340.7 1028.6,341.9 1029.3,343.1 1030.1,344.3 1030.8,345.5 1031.6,346.7 1032.3,347.9 1033.0,349.1 1033.8,350.2 1034.5,351.4 1035.2,352.5 1036.0,353.6 1036.7,354.7 1037.4,355.8 1038.2,356.9 1038.9,358.0 1039.6,359.1 1040.4,360.1 1041.1,361.2 1041.8,362.2 1042.6,363.2 1043.3,364.2 1044.0,365.2 1044.8,366.2 1045.5,367.2 1046.2,368.2 1047.0,369.1 1047.7,370.1 1048.4,371.0 1049.2,372.0 1049.9,372.9 1050.6,373.8 1051.4,374.7 1052.1,375.6 1052.8,376.5 1053.6,377.3 1054.3,378.2 1055.0,379.0 1055.8,379.9 1056.5,380.7 1057.2,381.5 1058.0,382.3 1058.7,383.1 1059.5,383.9 1060.2,384.7 1060.9,385.4 1061.7,386.2 1062.4,386.9 1063.1,387.7 1063.9,388.4 1064.6,389.1 1065.3,389.8 1066.1,390.5 1066.8,391.2 1067.5,391.9 1068.3,392.6 1069.0,393.2 1069.7,393.9 1070.5,394.5 1071.2,395.1 1071.9,395.7 1072.7,396.4 1073.4,397.0 1074.1,397.5 1074.9,398.1 1075.6,398.7 1076.3,399.3 1077.1,399.8 1077.8,400.4 1078.5,400.9 1079.3,401.4 1080.0,401.9 1080.7,402.4 1081.5,402.9 1082.2,403.4 1082.9,403.9 1083.7,404.4 1084.4,404.8 1085.1,405.3 1085.9,405.7 1086.6,406.1 1087.4,406.6 1088.1,407.0 1088.8,407.4 1089.6,407.8 1090.3,408.2 1091.0,408.6 1091.8,408.9 1092.5,409.3 1093.2,409.7 1094.0,410.0 1094.7,410.4 1095.4,410.7 1096.2,411.0 1096.9,411.3 1097.6,411.6 1098.4,411.9 1099.1,412.2 1099.8,412.5 1100.6,412.8 1101.3,413.1 1102.0,413.3 1102.8,413.6 1103.5,413.8 1104.2,414.1 1105.0,414.3 1105.7,414.5 1106.4,414.7 1107.2,414.9 1107.9,415.1 1108.6,415.3 1109.4,415.5 1110.1,415.7 1110.8,415.9 1111.6,416.1 1112.3,416.2 1113.0,416.4 1113.8,416.5 1114.5,416.7 1115.3,416.8 1116.0,417.0 1116.7,417.1 1117.5,417.2 1118.2,417.3 1118.9,417.4 1119.7,417.5 1120.4,417.6 1121.1,417.7 1121.9,417.8 1122.6,417.9 1123.3,418.0 1124.1,418.1 1124.8,418.1 1125.5,418.2 1126.3,418.2 1127.0,418.3 1127.7,418.4 1128.5,418.4 1129.2,418.4 1129.9,418.5 1130.7,418.5 1131.4,418.6 1132.1,418.6 1132.9,418.6 1133.6,418.6 1134.3,418.6 1135.1,418.7 1135.8,418.7 1136.5,418.7 1137.3,418.7 1138.0,418.7 1138.7,418.7 1139.5,418.7 1140.2,418.7 1140.9,418.7 1141.7,418.7 1142.4,418.7 1143.2,418.7 1143.9,418.7 1144.6,418.6 1145.4,418.6 1146.1,418.6 1146.8,418.6 1147.6,418.6 1148.3,418.6 1149.0,418.5 1149.8,418.5 1150.5,418.5 1151.2,418.5 1152.0,418.5 1152.7,418.4 1153.4,418.4 1154.2,418.4 1154.9,418.4 1155.6,418.4 1156.4,418.3 1157.1,418.3 1157.8,418.3 1158.6,418.3 1159.3,418.3 1160.0,418.2 1160.8,418.2 1161.5,418.2 1162.2,418.2 1163.0,418.2 1163.7,418.2 1164.4,418.2 1165.2,418.1 1165.9,418.1 1166.6,418.1 1167.4,418.1 1168.1,418.1 1168.8,418.1 1169.6,418.1 1170.3,418.1 1171.0,418.1 1171.8,418.1 1172.5,418.1 1173.3,418.1 1174.0,418.1 1174.7,418.1 1175.5,418.1 1176.2,418.1 1176.9,418.1 1177.7,418.2 1178.4,418.2 1179.1,418.2 1179.9,418.2 1180.6,418.2 1181.3,418.2 1182.1,418.2 1182.8,418.3 1183.5,418.3 1184.3,418.3 1185.0,418.3 1185.7,418.3 1186.5,418.4 1187.2,418.4 1187.9,418.4 1188.7,418.4 1189.4,418.4 1190.1,418.5 1190.9,418.5 1191.6,418.5 1192.3,418.5 1193.1,418.5 1193.8,418.6 1194.5,418.6 1195.3,418.6 1196.0,418.6 1196.7,418.6 1197.5,418.6 1198.2,418.7 1198.9,418.7 1199.7,418.7 1200.4,418.7 1201.2,418.7 1201.9,418.7 1202.6,418.7 1203.4,418.7 1204.1,418.7 1204.8,418.7 1205.6,418.7 1206.3,418.7 1207.0,418.7 1207.8,418.6 1208.5,418.6 1209.2,418.6 1210.0,418.6 1210.7,418.6 1211.4,418.5 1212.2,418.5 1212.9,418.4 1213.6,418.4 1214.4,418.4 1215.1,418.3 1215.8,418.2 1216.6,418.2 1217.3,418.1 1218.0,418.1 1218.8,418.0 1219.5,417.9 1220.2,417.8 1221.0,417.7 1221.7,417.6 1222.4,417.5 1223.2,417.4 1223.9,417.3 1224.6,417.2 1225.4,417.1 1226.1,417.0 1226.8,416.8 1227.6,416.7 1228.3,416.5 1229.1,416.4 1229.8,416.2 1230.5,416.1 1231.3,415.9 1232.0,415.7 1232.7,415.5 1233.5,415.3 1234.2,415.1 1234.9,414.9 1235.7,414.7 1236.4,414.5 1237.1,414.3 1237.9,414.1 1238.6,413.8 1239.3,413.6 1240.1,413.3 1240.8,413.1 1241.5,412.8 1242.3,412.5 1243.0,412.2 1243.7,411.9 1244.5,411.6 1245.2,411.3 1245.9,411.0 1246.7,410.7 1247.4,410.4 1248.1,410.0 1248.9,409.7 1249.6,409.3 1250.3,408.9 1251.1,408.6 1251.8,408.2 1252.5,407.8 1253.3,407.4 1254.0,407.0 1254.7,406.6 1255.5,406.1 1256.2,405.7 1257.0,405.3 1257.7,404.8 1258.4,404.4 1259.2,403.9 1259.9,403.4 1260.6,402.9 1261.4,402.4 1262.1,401.9 1262.8,401.4 1263.6,400.9 1264.3,400.4 1265.0,399.8 1265.8,399.3 1266.5,398.7 1267.2,398.1 1268.0,397.5 1268.7,397.0 1269.4,396.4 1270.2,395.7 1270.9,395.1 1271.6,394.5 1272.4,393.9 1273.1,393.2 1273.8,392.6 1274.6,391.9 1275.3,391.2 1276.0,390.5 1276.8,389.8 1277.5,389.1 1278.2,388.4 1279.0,387.7 1279.7,386.9 1280.4,386.2 1281.2,385.4 1281.9,384.7 1282.6,383.9 1283.4,383.1 1284.1,382.3 1284.9,381.5 1285.6,380.7 1286.3,379.9 1287.1,379.0 1287.8,378.2 1288.5,377.3 1289.3,376.5 1290.0,375.6 1290.7,374.7 1291.5,373.8 1292.2,372.9 1292.9,372.0 1293.7,371.0 1294.4,370.1 1295.1,369.1 1295.9,368.2 1296.6,367.2 1297.3,366.2 1298.1,365.2 1298.8,364.2 1299.5,363.2 1300.3,362.2 1301.0,361.2 1301.7,360.1 1302.5,359.1 1303.2,358.0 1303.9,356.9 1304.7,355.8 1305.4,354.7 1306.1,353.6 1306.9,352.5 1307.6,351.4 1308.3,350.2 1309.1,349.1 1309.8,347.9 1310.5,346.7 1311.3,345.5 1312.0,344.3 1312.8,343.1 1313.5,341.9 1314.2,340.7 1315.0,339.4 1315.7,338.2 1316.4,336.9 1317.2,335.7 1317.9,334.4 1318.6,333.1 1319.4,331.8 1320.1,330.5 1320.8,329.1 1321.6,327.8 1322.3,326.4 1323.0,325.1 1323.8,323.7 1324.5,322.3 1325.2,320.9 1326.0,319.5 1326.7,318.1 1327.4,316.7 1328.2,315.3 1328.9,313.8 1329.6,312.3 1330.4,310.9 1331.1,309.4 1331.8,307.9 1332.6,306.4 1333.3,304.9 1334.0,303.4 1334.8,301.8 1335.5,300.3 1336.2,298.7 1337.0,297.1 1337.7,295.6 1338.4,294.0 1339.2,292.4 1339.9,290.7 1340.7,289.1 1341.4,287.5 1342.1,285.8 1342.9,284.2 1343.6,282.5 1344.3,280.8 1345.1,279.1 1345.8,277.4 1346.5,275.7 1347.3,274.0 1348.0,272.2 1348.7,270.5 1349.5,268.7 1350.2,266.9 1350.9,265.2 1351.7,263.4 1352.4,261.5 1353.1,259.7 1353.9,257.9 1354.6,256.1"/>
<polyline stroke="#ff0000" points="987.5,232.5 988.2,234.4 989.0,236.2 989.7,238.1 990.4,240.0 991.2,241.8 991.9,243.6 992.6,245.5 993.4,247.3 994.1,249.1 994.8,250.9 995.6,252.6 996.3,254.4 997.0,256.2 997.8,257.9 998.5,259.7 999.2,261.4 1000.0,263.1 1000.7,264.8 1001.4,266.5 1002.2,268.2 1002.9,269.8 1003.7,271.5 1004.4,273.1 1005.1,274.8 1005.9,276.4 1006.6,278.0 1007.3,279.6 1008.1,281.2 1008.8,282.8 1009.5,284.4 1010.3,285.9 1011.0,287.5 1011.7,289.0 1012.5,290.5 1013.2,292.1 1013.9,293.6 1014.7,295.1 1015.4,296.5 1016.1,298.0 1016.9,299.5 1017.6,300.9 1018.3,302.4 1019.1,303.8 1019.8,305.2 1020.5,306.7 1021.3,308.1 1022.0,309.4 1022.7,310.8 1023.5,312.2 1024.2,313.5 1024.9,314.9 1025.7,316.2 1026.4,317.6 1027.1,318.9 1027.9,320.2 1028.6,321.5 1029.3,322.8 1030.1,324.0 1030.8,325.3 1031.6,326.6 1032.3,327.8 1033.0,329.0 1033.8,330.3 1034.5,331.5 1035.2,332.7 1036.0,333.9 1036.7,335.1 1037.4,336.2 1038.2,337.4 1038.9,338.5 1039.6,339.7 1040.4,340.8 1041.1,341.9 1041.8,343.0 1042.6,344.1 1043.3,345.2 1044.0,346.3 1044.8,347.4 1045.5,348.5 1046.2,349.5 1047.0,350.5 1047.7,351.6 1048.4,352.6 1049.2,353.6 1049.9,354.6 1050.6,355.6 1051.4,356.6 1052.1,357.6 1052.8,358.5 1053.6,359.5 1054.3,360.4 1055.0,361.3 1055.8,362.3 1056.5,363.2 1057.2,364.1 1058.0,365.0 1058.7,365.9 1059.5,366.7 1060.2,367.6 1060.9,368.5 1061.7,369.3 1062.4,370.1 1063.1,371.0 1063.9,371.8 1064.6,372.6 1065.3,373.4 1066.1,374.2 1066.8,375.0 1067.5,375.8 1068.3,376.5 1069.0,377.3 1069.7,378.0 1070.5,378.8 1071.2,379.5 1071.9,380.2 1072.7,380.9 1073.4,381.6 1074.1,382.3 1074.9,383.0 1075.6,383.7 1076.3,384.3 1077.1,385.0 1077.8,385.6 1078.5,386.3 1079.3,386.9 1080.0,387.5 1080.7,388.1 1081.5,388.7 1082.2,389.3 1082.9,389.9 1083.7,390.5 1084.4,391.1 1085.1,391.6 1085.9,392.2 1086.6,392.7 1087.4,393.3 1088.1,393.8 1088.8,394.3 1089.6,394.8 1090.3,395.3 1091.0,395.8 1091.8,396.3 1092.5,396.8 1093.2,397.3 1094.0,397.8 1094.7,398.2 1095.4,398.7 1096.2,399.1 1096.9,399.6 1097.6,400.0 1098.4,400.4 1099.1,400.8 1099.8,401.2 1100.6,401.6 1101.3,402.0 1102.0,402.4 1102.8,402.8 1103.5,403.2 1104.2,403.5 1105.0,403.9 1105.7,404.2 1106.4,404.6 1107.2,404.9 1107.9,405.3 1108.6,405.6 1109.4,405.9 1110.1,406.2 1110.8,406.5 1111.6,406.8 1112.3,407.1 1113.0,407.4 1113.8,407.7 1114.5,408.0 1115.3,408.2 1116.0,408.5 1116.7,408.8 1117.5,409.0 1118.2,409.2 1118.9,409.5 1119.7,409.7 1120.4,410.0 1121.1,410.2 1121.9,410.4 1122.6,410.6 1123.3,410.8 1124.1,411.0 1124.8,411.2 1125.5,411.4 1126.3,411.6 1127.0,411.8 1127.7,412.0 1128.5,412.1 1129.2,412.3 1129.9,412.5 1130.7,412.6 1131.4,412.8 1132.1,412.9 1132.9,413.1 1133.6,413.2 1134.3,413.4 1135.1,413.5 1135.8,413.6 1136.5,413.8 1137.3,413.9 1138.0,414.0 1138.7,414.1 1139.5,414.2 1140.2,414.3 1140.9,414.4 1141.7,414.5 1142.4,414.6 1143.2,414.7 1143.9,414.8 1144.6,414.9 1145.4,415.0 1146.1,415.1 1146.8,415.2 1147.6,415.2 1148.3,415.3 1149.0,415.4 1149.8,415.4 1150.5,415.5 1151.2,415.6 1152.0,415.6 1152.7,415.7 1153.4,415.7 1154.2,415.8 1154.9,415.8 1155.6,415.9 1156.4,415.9 1157.1,416.0 1157.8,416.0 1158.6,416.0 1159.3,416.1 1160.0,416.1 1160.8,416.1 1161.5,416.2 1162.2,416.2 1163.0,416.2 1163.7,416.2 1164.4,416.3 1165.2,416.3 1165.9,416.3 1166.6,416.3 1167.4,416.3 1168.1,416.3 1168.8,416.3 1169.6,416.3 1170.3,416.3 1171.0,416.3 1171.8,416.3 1172.5,416.3 1173.3,416.3 1174.0,416.3 1174.7,416.3 1175.5,416.3 1176.2,416.3 1176.9,416.3 1177.7,416.3 1178.4,416.2 1179.1,416.2 1179.9,416.2 1180.6,416.2 1181.3,416.1 1182.1,416.1 1182.8,416.1 1183.5,416.0 1184.3,416.0 1185.0,416.0 1185.7,415.9 1186.5,415.9 1187.2,415.8 1187.9,415.8 1188.7,415.7 1189.4,415.7 1190.1,415.6 1190.9,415.6 1191.6,415.5 1192.3,415.4 1193.1,415.4 1193.8,415.3 1194.5,415.2 1195.3,415.2 1196.0,415.1 1196.7,415.0 1197.5,414.9 1198.2,414.8 1198.9,414.7 1199.7,414.6 1200.4,414.5 1201.2,414.4 1201.9,414.3 1202.6,414.2 1203.4,414.1 1204.1,414.0 1204.8,413.9 1205.6,413.8 1206.3,413.6 1207.0,413.5 1207.8,413.4 1208.5,413.2 1209.2,413.1 1210.0,412.9 1210.7,412.8 1211.4,412.6 1212.2,412.5 1212.9,412.3 1213.6,412.1 1214.4,412.0 1215.1,411.8 1215.8,411.6 1216.6,411.4 1217.3,411.2 1218.0,411.0 1218.8,410.8 1219.5,410.6 1220.2,410.4 1221.0,410.2 1221.7,410.0 1222.4,409.7 1223.2,409.5 1223.9,409.2 1224.6,409.0 1225.4,408.8 1226.1,408.5 1226.8,408.2 1227.6,408.0 1228.3,407.7 1229.1,407.4 1229.8,407.1 1230.5,406.8 1231.3,406.5 1232.0,406.2 1232.7,405.9 1233.5,405.6 1234.2,405.3 1234.9,404.9 1235.7,404.6 1236.4,404.2 1237.1,403.9 1237.9,403.5 1238.6,403.2 1239.3,402.8 1240.1,402.4 1240.8,402.0 1241.5,401.6 1242.3,401.2 1243.0,400.8 1243.7,400.4 1244.5,400.0 1245.2,399.6 1245.9,399.1 1246.7,398.7 1247.4,398.2 1248.1,397.8 1248.9,397.3 1249.6,396.8 1250.3,396.3 1251.1,395.8 1251.8,395.3 1252.5,394.8 1253.3,394.3 1254.0,393.8 1254.7,393.3 1255.5,392.7 1256.2,392.2 1257.0,391.6 1257.7,391.1 1258.4,390.5 1259.2,389.9 1259.9,389.3 1260.6,388.7 1261.4,388.1 1262.1,387.5 1262.8,386.9 1263.6,386.3 1264.3,385.6 1265.0,385.0 1265.8,384.3 1266.5,383.7 1267.2,383.0 1268.0,382.3 1268.7,381.6 1269.4,380.9 1270.2,380.2 1270.9,379.5 1271.6,378.8 1272.4,378.0 1273.1,377.3 1273.8,376.5 1274.6,375.8 1275.3,375.0 1276.0,374.2 1276.8,373.4 1277.5,372.6 1278.2,371.8 1279.0,371.0 1279.7,370.1 1280.4,369.3 1281.2,368.5 1281.9,367.6 1282.6,366.7 1283.4,365.9 1284.1,365.0 1284.9,364.1 1285.6,363.2 1286.3,362.3 1287.1,361.3 1287.8,360.4 1288.5,359.5 1289.3,358.5 1290.0,357.6 1290.7,356.6 1291.5,355.6 1292.2,354.6 1292.9,353.6 1293.7,352.6 1294.4,351.6 1295.1,350.5 1295.9,349.5 1296.6,348.5 1297.3,347.4 1298.1,346.3 1298.8,345.2 1299.5,344.1 1300.3,343.0 1301.0,341.9 1301.7,340.8 1302.5,339.7 1303.2,338.5 1303.9,337.4 1304.7,336.2 1305.4,335.1 1306.1,333.9 1306.9,332.7 1307.6,331.5 1308.3,330.3 1309.1,329.0 1309.8,327.8 1310.5,326.6 1311.3,325.3 1312.0,324.0 1312.8,322.8 1313.5,321.5 1314.2,320.2 1315.0,318.9 1315.7,317.6 1316.4,316.2 1317.2,314.9 1317.9,313.5 1318.6,312.2 1319.4,310.8 1320.1,309.4 1320.8,308.1 1321.6,306.7 1322.3,305.2 1323.0,303.8 1323.8,302.4 1324.5,300.9 1325.2,299.5 1326.0,298.0 1326.7,296.5 1327.4,295.1 1328.2,293.6 1328.9,292.1 1329.6,290.5 1330.4,289.0 1331.1,287.5 1331.8,285.9 1332.6,284.4 1333.3,282.8 1334.0,281.2 1334.8,279.6 1335.5,278.0 1336.2,276.4 1337.0,274.8 1337.7,273.1 1338.4,271.5 1339.2,269.8 1339.9,268.2 1340.7,266.5 1341.4,264.8 1342.1,263.1 1342.9,261.4 1343.6,259.7 1344.3,257.9 1345.1,256.2 1345.8,254.4 1346.5,252.6 1347.3,250.9 1348.0,249.1 1348.7,247.3 1349.5,245.5 1350.2,243.6 1350.9,241.8 1351.7,240.0 1352.4,238.1 1353.1,236.2 1353.9,234.4 1354.6,232.5"/>
<polyline stroke="#00ffff" points="987.5,131.6 988.2,133.6 989.0,135.7 989.7,137.7 990.4,139.7 991.2,141.7 991.9,143.6 992.6,145.6 993.4,147.6 994.1,149.5 994.8,151.5 995.6,153.4 996.3,155.3 997.0,157.2 997.8,159.1 998.5,161.0 999.2,162.9 1000.0,164.7 1000.7,166.6 1001.4,168.4 1002.2,170.3 1002.9,172.1 1003.7,173.9 1004.4,175.7 1005.1,177.5 1005.9,179.3 1006.6,181.1 1007.3,182.8 1008.1,184.6 1008.8,186.3 1009.5,188.1 1010.3,189.8 1011.0,191.5 1011.7,193.2 1012.5,194.9 1013.2,196.6 1013.9,198.3 1014.7,199.9 1015.4,201.6 1016.1,203.2 1016.9,204.9 1017.6,206.5 1018.3,208.1 1019.1,209.7 1019.8,211.3 1020.5,212.9 1021.3,214.5 1022.0,216.0 1022.7,217.6 1023.5,219.1 1024.2,220.7 1024.9,222.2 1025.7,223.7 1026.4,225.2 1027.1,226.7 1027.9,228.2 1028.6,229.7 1029.3,231.2 1030.1,232.6 1030.8,234.1 1031.6,235.5 1032.3,236.9 1033.0,238.4 1033.8,239.8 1034.5,241.2 1035.2,242.6 1036.0,243.9 1036.7,245.3 1037.4,246.7 1038.2,248.0 1038.9,249.4 1039.6,250.7 1040.4,252.0 1041.1,253.4 1041.8,254.7 1042.6,256.0 1043.3,257.3 1044.0,258.5 1044.8,259.8 1045.5,261.1 1046.2,262.3 1047.0,263.6 1047.7,264.8 1048.4,266.0 1049.2,267.2 1049.9,268.4 1050.6,269.6 1051.4,270.8 1052.1,272.0 1052.8,273.2 1053.6,274.3 1054.3,275.5 1055.0,276.6 1055.8,277.7 1056.5,278.9 1057.2,280.0 1058.0,281.1 1058.7,282.2 1059.5,283.3 1060.2,284.4 1060.9,285.4 1061.7,286.5 1062.4,287.5 1063.1,288.6 1063.9,289.6 1064.6,290.6 1065.3,291.7 1066.1,292.7 1066.8,293.7 1067.5,294.7 1068.3,295.7 1069.0,296.6 1069.7,297.6 1070.5,298.6 1071.2,299.5 1071.9,300.4 1072.7,301.4 1073.4,302.3 1074.1,303.2 1074.9,304.1 1075.6,305.0 1076.3,305.9 1077.1,306.8 1077.8,307.7 1078.5,308.5 1079.3,309.4 1080.0,310.2 1080.7,311.1 1081.5,311.9 1082.2,312.7 1082.9,313.5 1083.7,314.4 1084.4,315.2 1085.1,315.9 1085.9,316.7 1086.6,317.5 1087.4,318.3 1088.1,319.0 1088.8,319.8 1089.6,320.5 1090.3,321.3 1091.0,322.0 1091.8,322.7 1092.5,323.4 1093.2,324.1 1094.0,324.8 1094.7,325.5 1095.4,326.2 1096.2,326.9 1096.9,327.5 1097.6,328.2 1098.4,328.9 1099.1,329.5 1099.8,330.1 1100.6,330.8 1101.3,331.4 1102.0,332.0 1102.8,332.6 1103.5,333.2 1104.2,333.8 1105.0,334.4 1105.7,335.0 1106.4,335.5 1107.2,336.1 1107.9,336.6 1108.6,337.2 1109.4,337.7 1110.1,338.3 1110.8,338.8 1111.6,339.3 1112.3,339.8 1113.0,340.3 1113.8,340.8 1114.5,341.3 1115.3,341.8 1116.0,342.3 1116.7,342.7 1117.5,343.2 1118.2,343.6 1118.9,344.1 1119.7,344.5 1120.4,345.0 1121.1,345.4 1121.9,345.8 1122.6,346.2 1123.3,346.6 1124.1,347.0 1124.8,347.4 1125.5,347.8 1126.3,348.2 1127.0,348.6 1127.7,348.9 1128.5,349.3 1129.2,349.7 1129.9,350.0 1130.7,350.3 1131.4,350.7 1132.1,351.0 1132.9,351.3 1133.6,351.6 1134.3,352.0 1135.1,352.3 1135.8,352.5 1136.5,352.8 1137.3,353.1 1138.0,353.4 1138.7,353.7 1139.5,353.9 1140.2,354.2 1140.9,354.4 1141.7,354.7 1142.4,354.9 1143.2,355.2 1143.9,355.4 1144.6,355.6 1145.4,355.8 1146.1,356.0 1146.8,356.2 1147.6,356.4 1148.3,356.6 1149.0,356.8 1149.8,357.0 1150.5,357.1 1151.2,357.3 1152.0,357.5 1152.7,357.6 1153.4,357.8 1154.2,357.9 1154.9,358.0 1155.6,358.2 1156.4,358.3 1157.1,358.4 1157.8,358.5 1158.6,358.6 1159.3,358.7 1160.0,358.8 1160.8,358.9 1161.5,359.0 1162.2,359.0 1163.0,359.1 1163.7,359.2 1164.4,359.2 1165.2,359.3 1165.9,359.3 1166.6,359.4 1167.4,359.4 1168.1,359.4 1168.8,359.4 1169.6,359.5 1170.3,359.5 1171.0,359.5 1171.8,359.5 1172.5,359.5 1173.3,359.4 1174.0,359.4 1174.7,359.4 1175.5,359.4 1176.2,359.3 1176.9,359.3 1177.7,359.2 1178.4,359.2 1179.1,359.1 1179.9,359.0 1180.6,359.0 1181.3,358.9 1182.1,358.8 1182.8,358.7 1183.5,358.6 1184.3,358.5 1185.0,358.4 1185.7,358.3 1186.5,358.2 1187.2,358.0 1187.9,357.9 1188.7,357.8 1189.4,357.6 1190.1,357.5 1190.9,357.3 1191.6,357.1 1192.3,357.0 1193.1,356.8 1193.8,356.6 1194.5,356.4 1195.3,356.2 1196.0,356.0 1196.7,355.8 1197.5,355.6 1198.2,355.4 1198.9,355.2 1199.7,354.9 1200.4,354.7 1201.2,354.4 1201.9,354.2 1202.6,353.9 1203.4,353.7 1204.1,353.4 1204.8,353.1 1205.6,352.8 1206.3,352.5 1207.0,352.3 1207.8,352.0 1208.5,351.6 1209.2,351.3 1210.0,351.0 1210.7,350.7 1211.4,350.3 1212.2,350.0 1212.9,349.7 1213.6,349.3 1214.4,348.9 1215.1,348.6 1215.8,348.2 1216.6,347.8 1217.3,347.4 1218.0,347.0 1218.8,346.6 1219.5,346.2 1220.2,345.8 1221.0,345.4 1221.7,345.0 1222.4,344.5 1223.2,344.1 1223.9,343.6 1224.6,343.2 1225.4,342.7 1226.1,342.3 1226.8,341.8 1227.6,341.3 1228.3,340.8 1229.1,340.3 1229.8,339.8 1230.5,339.3 1231.3,338.8 1232.0,338.3 1232.7,337.7 1233.5,337.2 1234.2,336.6 1234.9,336.1 1235.7,335.5 1236.4,335.0 1237.1,334.4 1237.9,333.8 1238.6,333.2 1239.3,332.6 1240.1,332.0 1240.8,331.4 1241.5,330.8 1242.3,330.1 1243.0,329.5 1243.7,328.9 1244.5,328.2 1245.2,327.5 1245.9,326.9 1246.7,326.2 1247.4,325.5 1248.1,324.8 1248.9,324.1 1249.6,323.4 1250.3,322.7 1251.1,322.0 1251.8,321.3 1252.5,320.5 1253.3,319.8 1254.0,319.0 1254.7,318.3 1255.5,317.5 1256.2,316.7 1257.0,315.9 1257.7,315.2 1258.4,314.4 1259.2,313.5 1259.9,312.7 1260.6,311.9 1261.4,311.1 1262.1,310.2 1262.8,309.4 1263.6,308.5 1264.3,307.7 1265.0,306.8 1265.8,305.9 1266.5,305.0 1267.2,304.1 1268.0,303.2 1268.7,302.3 1269.4,301.4 1270.2,300.4 1270.9,299.5 1271.6,298.6 1272.4,297.6 1273.1,296.6 1273.8,295.7 1274.6,294.7 1275.3,293.7 1276.0,292.7 1276.8,291.7 1277.5,290.6 1278.2,289.6 1279.0,288.6 1279.7,287.5 1280.4,286.5 1281.2,285.4 1281.9,284.4 1282.6,283.3 1283.4,282.2 1284.1,281.1 1284.9,280.0 1285.6,278.9 1286.3,277.7 1287.1,276.6 1287.8,275.5 1288.5,274.3 1289.3,273.2 1290.0,272.0 1290.7,270.8 1291.5,269.6 1292.2,268.4 1292.9,267.2 1293.7,266.0 1294.4,264.8 1295.1,263.6 1295.9,262.3 1296.6,261.1 1297.3,259.8 1298.1,258.5 1298.8,257.3 1299.5,256.0 1300.3,254.7 1301.0,253.4 1301.7,252.0 1302.5,250.7 1303.2,249.4 1303.9,248.0 1304.7,246.7 1305.4,245.3 1306.1,243.9 1306.9,242.6 1307.6,241.2 1308.3,239.8 1309.1,238.4 1309.8,236.9 1310.5,235.5 1311.3,234.1 1312.0,232.6 1312.8,231.2 1313.5,229.7 1314.2,228.2 1315.0,226.7 1315.7,225.2 1316.4,223.7 1317.2,222.2 1317.9,220.7 1318.6,219.1 1319.4,217.6 1320.1,216.0 1320.8,214.5 1321.6,212.9 1322.3,211.3 1323.0,209.7 1323.8,208.1 1324.5,206.5 1325.2,204.9 1326.0,203.2 1326.7,201.6 1327.4,199.9 1328.2,198.3 1328.9,196.6 1329.6,194.9 1330.4,193.2 1331.1,191.5 1331.8,189.8 1332.6,188.1 1333.3,186.3 1334.0,184.6 1334.8,182.8 1335.5,181.1 1336.2,179.3 1337.0,177.5 1337.7,175.7 1338.4,173.9 1339.2,172.1 1339.9,170.3 1340.7,168.4 1341.4,166.6 1342.1,164.7 1342.9,162.9 1343.6,161.0 1344.3,159.1 1345.1,157.2 1345.8,155.3 1346.5,153.4 1347.3,151.5 1348.0,149.5 1348.7,147.6 1349.5,145.6 1350.2,143.6 1350.9,141.7 1351.7,139.7 1352.4,137.7 1353.1,135.7 1353.9,133.6 1354.6,131.6"/>
</g>
<g font-size="27.4px">
<text x="1023.91" y="455.8" text-anchor="middle">-2</text>
<text x="1097.33" y="455.8" text-anchor="middle">-1</text>
<text x="1172.05" y="455.8" text-anchor="middle">0</text>
<text x="1245.47" y="455.8" text-anchor="middle">1</text>
<text x="1318.89" y="455.8" text-anchor="middle">2</text>
<text x="975.50" y="428.20" text-anchor="end">0</text>
<text x="975.50" y="368.97" text-anchor="end">1</text>
<text x="975.50" y="309.74" text-anchor="end">2</text>
<text x="975.50" y="250.50" text-anchor="end">3</text>
<text x="975.50" y="191.27" text-anchor="end">4</text>
<text x="975.50" y="132.04" text-anchor="end">5</text>
<text x="975.50" y="72.81" text-anchor="end">6</text>
</g>
<g font-size="30.1px">
<text x="1172.05" y="491.5" text-anchor="middle">Displacement</text>
<text transform="translate(947.80 234.40) rotate(-90)" text-anchor="middle">Potential Energy</text>
</g>
<g font-family="'Liberation Sans', sans-serif" font-weight="bold" font-size="29.33px">
<text x="0.6" y="24.3">A</text><text x="462" y="24.3">B</text><text x="941.5" y="24.3">C</text>
</g>
<g font-size="24.65px">
<line x1="1054" y1="84.80" x2="1136.8" y2="84.80" stroke="#000000" stroke-width="2.8"/>
<text x="1143.4" y="93.90">Linear</text>
<line x1="1054" y1="114.60" x2="1136.8" y2="114.60" stroke="#0000ff" stroke-width="2.8"/>
<text transform="translate(1143 123.70) scale(1.16 1.04)" font-style="italic">α</text><text y="123.70"><tspan x="1163.2" textLength="14.6" lengthAdjust="spacingAndGlyphs">=</tspan><tspan x="1185.8">0.1, bistable</tspan></text>
<line x1="1054" y1="144.40" x2="1136.8" y2="144.40" stroke="#ff00ff" stroke-width="2.8"/>
<text transform="translate(1143 153.50) scale(1.16 1.04)" font-style="italic">α</text><text y="153.50"><tspan x="1163.2" textLength="14.6" lengthAdjust="spacingAndGlyphs">=</tspan><tspan x="1185.8">0.5, bistable</tspan></text>
<line x1="1054" y1="174.20" x2="1136.8" y2="174.20" stroke="#00ff00" stroke-width="2.8"/>
<text transform="translate(1143 183.30) scale(1.16 1.04)" font-style="italic">α</text><text y="183.30"><tspan x="1163.2" textLength="14.6" lengthAdjust="spacingAndGlyphs">=</tspan><tspan x="1185.8">0.9, bistable</tspan></text>
<line x1="1054" y1="204.00" x2="1136.8" y2="204.00" stroke="#ff0000" stroke-width="2.8"/>
<text transform="translate(1143 213.10) scale(1.16 1.04)" font-style="italic">α</text><text y="213.10"><tspan x="1163.2" textLength="14.6" lengthAdjust="spacingAndGlyphs">=</tspan><tspan x="1185.8">1.2, monstable</tspan></text>
<line x1="1054" y1="233.80" x2="1136.8" y2="233.80" stroke="#00ffff" stroke-width="2.8"/>
<text transform="translate(1143 242.90) scale(1.16 1.04)" font-style="italic">α</text><text y="242.90"><tspan x="1163.2" textLength="14.6" lengthAdjust="spacingAndGlyphs">=</tspan><tspan x="1185.8">2, monstable</tspan></text>
</g>
</svg>
</body></html>
